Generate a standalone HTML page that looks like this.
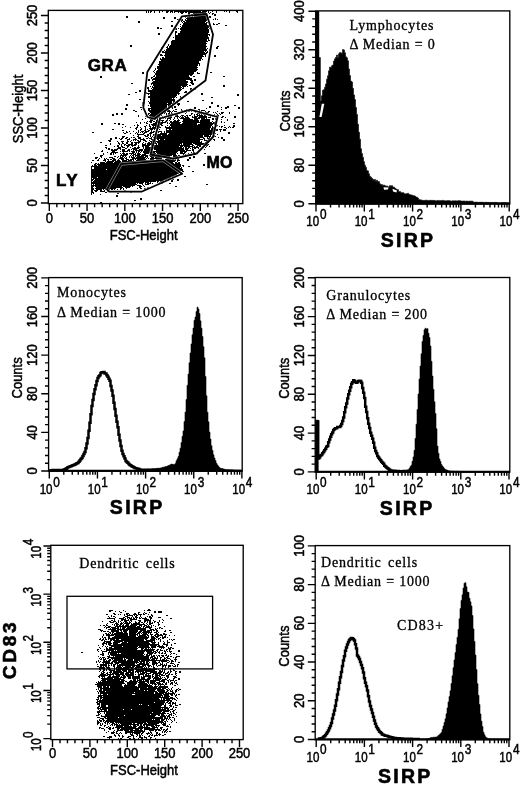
<!DOCTYPE html>
<html><head><meta charset="utf-8"><title>Figure</title>
<style>html,body{margin:0;padding:0;background:#fff}body{width:520px;height:785px;overflow:hidden}svg text{fill:#000}</style></head>
<body>
<svg width="520" height="785" viewBox="0 0 520 785" style="display:block;filter:blur(0.35px)">
<rect width="520" height="785" fill="#fff"/>
<path d="M146 11h1v1h-1zM148 11h1v1h-1zM150 11h2v1h-2zM154 11h1v1h-1zM159 11h1v1h-1zM162 11h1v1h-1zM166 11h3v1h-3zM170 11h3v1h-3zM174 11h27v1h-27zM202 11h5v1h-5zM208 11h1v1h-1zM212 11h1v1h-1zM216 11h1v1h-1zM224 11h1v1h-1zM226 11h1v1h-1zM229 11h1v1h-1zM236 11h2v1h-2zM146 12h1v1h-1zM148 12h1v1h-1zM150 12h1v1h-1zM154 12h1v1h-1zM159 12h1v1h-1zM166 12h2v1h-2zM170 12h1v1h-1zM172 12h1v1h-1zM174 12h1v1h-1zM178 12h1v1h-1zM180 12h4v1h-4zM185 12h2v1h-2zM188 12h18v1h-18zM208 12h1v1h-1zM210 12h1v1h-1zM216 12h1v1h-1zM229 12h1v1h-1zM237 12h1v1h-1zM181 13h2v1h-2zM188 13h2v1h-2zM193 13h13v1h-13zM209 13h1v1h-1zM212 13h2v1h-2zM188 14h2v1h-2zM191 14h2v1h-2zM194 14h13v1h-13zM212 14h1v1h-1zM214 14h2v1h-2zM191 15h1v1h-1zM194 15h14v1h-14zM214 15h2v1h-2zM126 16h2v1h-2zM189 16h1v1h-1zM192 16h1v1h-1zM194 16h13v1h-13zM209 16h2v1h-2zM126 17h2v1h-2zM163 17h2v1h-2zM174 17h2v1h-2zM185 17h1v1h-1zM187 17h24v1h-24zM163 18h2v1h-2zM174 18h2v1h-2zM186 18h22v1h-22zM215 18h1v1h-1zM177 19h2v1h-2zM181 19h2v1h-2zM185 19h1v1h-1zM187 19h21v1h-21zM213 19h1v1h-1zM215 19h1v1h-1zM217 19h1v1h-1zM181 20h2v1h-2zM185 20h22v1h-22zM138 21h2v1h-2zM171 21h2v1h-2zM181 21h1v1h-1zM183 21h2v1h-2zM186 21h20v1h-20zM208 21h1v1h-1zM138 22h2v1h-2zM182 22h1v1h-1zM184 22h21v1h-21zM206 22h2v1h-2zM183 23h24v1h-24zM213 23h1v1h-1zM218 23h2v1h-2zM180 24h1v1h-1zM183 24h24v1h-24zM213 24h2v1h-2zM216 24h2v1h-2zM171 25h2v1h-2zM182 25h29v1h-29zM225 25h2v1h-2zM171 26h2v1h-2zM180 26h1v1h-1zM182 26h28v1h-28zM157 27h2v1h-2zM181 27h28v1h-28zM157 28h2v1h-2zM160 28h2v1h-2zM175 28h2v1h-2zM178 28h1v1h-1zM180 28h28v1h-28zM209 28h1v1h-1zM175 29h2v1h-2zM180 29h29v1h-29zM181 30h28v1h-28zM175 31h2v1h-2zM180 31h29v1h-29zM175 32h2v1h-2zM180 32h29v1h-29zM158 33h2v1h-2zM175 33h1v1h-1zM178 33h30v1h-30zM158 34h2v1h-2zM175 34h1v1h-1zM178 34h32v1h-32zM212 34h2v1h-2zM175 35h33v1h-33zM209 35h1v1h-1zM175 36h33v1h-33zM173 37h1v1h-1zM175 37h34v1h-34zM175 38h34v1h-34zM175 39h32v1h-32zM208 39h1v1h-1zM172 40h35v1h-35zM208 40h2v1h-2zM171 41h37v1h-37zM171 42h35v1h-35zM171 43h36v1h-36zM168 44h1v1h-1zM171 44h35v1h-35zM130 45h2v1h-2zM168 45h1v1h-1zM170 45h36v1h-36zM130 46h2v1h-2zM167 46h1v1h-1zM169 46h38v1h-38zM217 46h2v1h-2zM161 47h2v1h-2zM166 47h2v1h-2zM169 47h37v1h-37zM216 47h2v1h-2zM167 48h39v1h-39zM207 48h1v1h-1zM216 48h2v1h-2zM166 49h41v1h-41zM209 49h2v1h-2zM164 50h1v1h-1zM166 50h41v1h-41zM209 50h2v1h-2zM162 51h2v1h-2zM165 51h39v1h-39zM205 51h1v1h-1zM207 51h1v1h-1zM162 52h43v1h-43zM206 52h2v1h-2zM165 53h42v1h-42zM160 54h2v1h-2zM165 54h41v1h-41zM160 55h3v1h-3zM164 55h39v1h-39zM205 55h1v1h-1zM214 55h2v1h-2zM165 56h39v1h-39zM205 56h1v1h-1zM214 56h2v1h-2zM162 57h2v1h-2zM165 57h37v1h-37zM160 58h1v1h-1zM162 58h40v1h-40zM160 59h41v1h-41zM202 59h1v1h-1zM161 60h40v1h-40zM159 61h40v1h-40zM159 62h40v1h-40zM159 63h41v1h-41zM158 64h40v1h-40zM199 64h1v1h-1zM159 65h39v1h-39zM199 65h1v1h-1zM157 66h40v1h-40zM157 67h41v1h-41zM155 68h1v1h-1zM157 68h40v1h-40zM155 69h1v1h-1zM158 69h40v1h-40zM154 70h1v1h-1zM157 70h40v1h-40zM153 71h1v1h-1zM156 71h40v1h-40zM142 72h2v1h-2zM154 72h1v1h-1zM156 72h38v1h-38zM197 72h1v1h-1zM210 72h2v1h-2zM142 73h2v1h-2zM155 73h39v1h-39zM197 73h3v1h-3zM155 74h38v1h-38zM154 75h1v1h-1zM156 75h33v1h-33zM190 75h2v1h-2zM100 76h2v1h-2zM153 76h2v1h-2zM156 76h33v1h-33zM193 76h2v1h-2zM223 76h2v1h-2zM100 77h2v1h-2zM151 77h2v1h-2zM155 77h35v1h-35zM151 78h1v1h-1zM153 78h39v1h-39zM148 79h2v1h-2zM152 79h40v1h-40zM194 79h2v1h-2zM148 80h2v1h-2zM152 80h1v1h-1zM155 80h31v1h-31zM190 80h3v1h-3zM194 80h2v1h-2zM153 81h35v1h-35zM191 81h2v1h-2zM152 82h36v1h-36zM190 82h3v1h-3zM131 83h2v1h-2zM151 83h36v1h-36zM191 83h3v1h-3zM151 84h1v1h-1zM153 84h35v1h-35zM192 84h2v1h-2zM153 85h34v1h-34zM189 85h2v1h-2zM223 85h2v1h-2zM150 86h1v1h-1zM152 86h1v1h-1zM154 86h27v1h-27zM182 86h4v1h-4zM187 86h1v1h-1zM223 86h2v1h-2zM147 87h2v1h-2zM152 87h30v1h-30zM183 87h1v1h-1zM147 88h2v1h-2zM151 88h1v1h-1zM153 88h28v1h-28zM182 88h2v1h-2zM190 88h2v1h-2zM148 89h1v1h-1zM152 89h30v1h-30zM190 89h2v1h-2zM194 89h2v1h-2zM139 90h2v1h-2zM148 90h33v1h-33zM190 90h2v1h-2zM139 91h2v1h-2zM148 91h32v1h-32zM185 91h2v1h-2zM135 92h2v1h-2zM146 92h1v1h-1zM150 92h29v1h-29zM184 92h3v1h-3zM146 93h34v1h-34zM201 93h2v1h-2zM128 94h2v1h-2zM148 94h1v1h-1zM150 94h27v1h-27zM178 94h1v1h-1zM201 94h2v1h-2zM237 94h2v1h-2zM150 95h27v1h-27zM237 95h2v1h-2zM148 96h28v1h-28zM180 96h1v1h-1zM148 97h27v1h-27zM176 97h1v1h-1zM180 97h3v1h-3zM211 97h2v1h-2zM150 98h22v1h-22zM173 98h1v1h-1zM181 98h2v1h-2zM139 99h2v1h-2zM143 99h2v1h-2zM150 99h25v1h-25zM179 99h1v1h-1zM150 100h25v1h-25zM177 100h3v1h-3zM202 100h2v1h-2zM148 101h1v1h-1zM150 101h22v1h-22zM173 101h2v1h-2zM187 101h2v1h-2zM142 102h1v1h-1zM144 102h1v1h-1zM149 102h23v1h-23zM173 102h1v1h-1zM177 102h1v1h-1zM211 102h2v1h-2zM142 103h1v1h-1zM144 103h1v1h-1zM149 103h18v1h-18zM168 103h5v1h-5zM177 103h3v1h-3zM211 103h2v1h-2zM126 104h2v1h-2zM142 104h2v1h-2zM150 104h21v1h-21zM172 104h2v1h-2zM177 104h3v1h-3zM126 105h2v1h-2zM142 105h1v1h-1zM148 105h1v1h-1zM150 105h17v1h-17zM168 105h3v1h-3zM172 105h1v1h-1zM178 105h1v1h-1zM217 105h2v1h-2zM234 105h2v1h-2zM150 106h17v1h-17zM168 106h2v1h-2zM172 106h1v1h-1zM174 106h2v1h-2zM209 106h2v1h-2zM217 106h2v1h-2zM227 106h2v1h-2zM140 107h2v1h-2zM151 107h16v1h-16zM170 107h3v1h-3zM174 107h2v1h-2zM194 107h2v1h-2zM209 107h2v1h-2zM221 107h1v1h-1zM225 107h4v1h-4zM238 107h2v1h-2zM125 108h2v1h-2zM148 108h22v1h-22zM172 108h1v1h-1zM194 108h2v1h-2zM206 108h1v1h-1zM225 108h2v1h-2zM238 108h2v1h-2zM125 109h2v1h-2zM141 109h1v1h-1zM148 109h2v1h-2zM151 109h14v1h-14zM167 109h2v1h-2zM175 109h2v1h-2zM181 109h1v1h-1zM186 109h1v1h-1zM198 109h2v1h-2zM221 109h1v1h-1zM133 110h2v1h-2zM148 110h18v1h-18zM167 110h3v1h-3zM173 110h1v1h-1zM181 110h2v1h-2zM184 110h3v1h-3zM188 110h2v1h-2zM199 110h1v1h-1zM201 110h4v1h-4zM135 111h2v1h-2zM149 111h14v1h-14zM164 111h2v1h-2zM167 111h4v1h-4zM172 111h1v1h-1zM174 111h3v1h-3zM182 111h4v1h-4zM188 111h2v1h-2zM191 111h1v1h-1zM194 111h3v1h-3zM198 111h2v1h-2zM201 111h1v1h-1zM205 111h1v1h-1zM208 111h2v1h-2zM217 111h1v1h-1zM150 112h12v1h-12zM164 112h2v1h-2zM169 112h1v1h-1zM171 112h1v1h-1zM186 112h1v1h-1zM195 112h1v1h-1zM201 112h2v1h-2zM205 112h4v1h-4zM213 112h1v1h-1zM215 112h1v1h-1zM221 112h3v1h-3zM229 112h1v1h-1zM116 113h2v1h-2zM121 113h2v1h-2zM148 113h2v1h-2zM151 113h12v1h-12zM164 113h1v1h-1zM166 113h1v1h-1zM168 113h2v1h-2zM171 113h2v1h-2zM179 113h1v1h-1zM185 113h1v1h-1zM191 113h2v1h-2zM197 113h6v1h-6zM205 113h3v1h-3zM216 113h1v1h-1zM219 113h1v1h-1zM221 113h2v1h-2zM229 113h1v1h-1zM112 114h2v1h-2zM116 114h2v1h-2zM121 114h2v1h-2zM146 114h1v1h-1zM148 114h1v1h-1zM150 114h11v1h-11zM166 114h1v1h-1zM168 114h3v1h-3zM176 114h2v1h-2zM191 114h1v1h-1zM194 114h1v1h-1zM196 114h2v1h-2zM199 114h1v1h-1zM201 114h1v1h-1zM203 114h2v1h-2zM206 114h3v1h-3zM214 114h1v1h-1zM217 114h1v1h-1zM220 114h1v1h-1zM112 115h2v1h-2zM138 115h1v1h-1zM149 115h9v1h-9zM161 115h1v1h-1zM166 115h1v1h-1zM170 115h2v1h-2zM175 115h3v1h-3zM181 115h3v1h-3zM186 115h2v1h-2zM189 115h2v1h-2zM194 115h1v1h-1zM197 115h6v1h-6zM204 115h2v1h-2zM208 115h3v1h-3zM214 115h1v1h-1zM216 115h3v1h-3zM138 116h1v1h-1zM145 116h1v1h-1zM150 116h6v1h-6zM159 116h1v1h-1zM162 116h1v1h-1zM164 116h2v1h-2zM167 116h2v1h-2zM170 116h2v1h-2zM175 116h4v1h-4zM180 116h1v1h-1zM182 116h1v1h-1zM184 116h2v1h-2zM187 116h1v1h-1zM192 116h1v1h-1zM194 116h4v1h-4zM199 116h8v1h-8zM210 116h1v1h-1zM212 116h1v1h-1zM214 116h2v1h-2zM218 116h1v1h-1zM222 116h2v1h-2zM234 116h2v1h-2zM149 117h1v1h-1zM152 117h9v1h-9zM164 117h1v1h-1zM168 117h4v1h-4zM174 117h1v1h-1zM177 117h1v1h-1zM179 117h1v1h-1zM181 117h3v1h-3zM185 117h4v1h-4zM192 117h5v1h-5zM198 117h9v1h-9zM208 117h3v1h-3zM221 117h2v1h-2zM225 117h1v1h-1zM234 117h2v1h-2zM145 118h1v1h-1zM149 118h1v1h-1zM152 118h6v1h-6zM159 118h3v1h-3zM163 118h1v1h-1zM165 118h1v1h-1zM167 118h4v1h-4zM174 118h1v1h-1zM177 118h1v1h-1zM180 118h10v1h-10zM194 118h6v1h-6zM201 118h4v1h-4zM206 118h1v1h-1zM212 118h2v1h-2zM215 118h1v1h-1zM142 119h1v1h-1zM150 119h3v1h-3zM154 119h2v1h-2zM157 119h1v1h-1zM159 119h2v1h-2zM167 119h1v1h-1zM170 119h1v1h-1zM173 119h1v1h-1zM178 119h1v1h-1zM183 119h10v1h-10zM194 119h4v1h-4zM201 119h9v1h-9zM212 119h2v1h-2zM215 119h1v1h-1zM217 119h1v1h-1zM221 119h1v1h-1zM227 119h1v1h-1zM150 120h3v1h-3zM156 120h2v1h-2zM160 120h4v1h-4zM166 120h2v1h-2zM169 120h1v1h-1zM174 120h2v1h-2zM177 120h3v1h-3zM183 120h16v1h-16zM200 120h10v1h-10zM227 120h1v1h-1zM147 121h1v1h-1zM149 121h3v1h-3zM153 121h2v1h-2zM156 121h4v1h-4zM162 121h1v1h-1zM165 121h2v1h-2zM170 121h2v1h-2zM173 121h6v1h-6zM182 121h17v1h-17zM200 121h10v1h-10zM212 121h1v1h-1zM215 121h2v1h-2zM221 121h1v1h-1zM136 122h1v1h-1zM140 122h1v1h-1zM144 122h1v1h-1zM146 122h1v1h-1zM150 122h2v1h-2zM155 122h11v1h-11zM167 122h1v1h-1zM170 122h11v1h-11zM183 122h29v1h-29zM213 122h3v1h-3zM221 122h1v1h-1zM224 122h1v1h-1zM101 123h2v1h-2zM114 123h2v1h-2zM118 123h2v1h-2zM140 123h1v1h-1zM146 123h2v1h-2zM153 123h4v1h-4zM158 123h5v1h-5zM167 123h1v1h-1zM169 123h1v1h-1zM171 123h9v1h-9zM182 123h15v1h-15zM200 123h15v1h-15zM216 123h1v1h-1zM233 123h2v1h-2zM101 124h2v1h-2zM118 124h2v1h-2zM122 124h2v1h-2zM137 124h1v1h-1zM149 124h1v1h-1zM151 124h6v1h-6zM158 124h4v1h-4zM170 124h27v1h-27zM198 124h15v1h-15zM214 124h1v1h-1zM134 125h1v1h-1zM137 125h2v1h-2zM146 125h1v1h-1zM149 125h1v1h-1zM152 125h5v1h-5zM158 125h2v1h-2zM161 125h2v1h-2zM167 125h1v1h-1zM170 125h42v1h-42zM216 125h2v1h-2zM224 125h1v1h-1zM233 125h2v1h-2zM125 126h1v1h-1zM137 126h1v1h-1zM144 126h2v1h-2zM149 126h2v1h-2zM153 126h1v1h-1zM155 126h5v1h-5zM165 126h1v1h-1zM169 126h1v1h-1zM171 126h40v1h-40zM212 126h1v1h-1zM216 126h1v1h-1zM219 126h1v1h-1zM221 126h2v1h-2zM229 126h1v1h-1zM233 126h2v1h-2zM122 127h1v1h-1zM130 127h1v1h-1zM136 127h2v1h-2zM140 127h1v1h-1zM145 127h1v1h-1zM150 127h1v1h-1zM152 127h4v1h-4zM158 127h3v1h-3zM165 127h46v1h-46zM212 127h2v1h-2zM215 127h1v1h-1zM221 127h1v1h-1zM224 127h2v1h-2zM228 127h1v1h-1zM230 127h1v1h-1zM232 127h2v1h-2zM135 128h2v1h-2zM141 128h1v1h-1zM145 128h1v1h-1zM149 128h7v1h-7zM158 128h1v1h-1zM166 128h44v1h-44zM211 128h4v1h-4zM226 128h1v1h-1zM112 129h2v1h-2zM136 129h1v1h-1zM140 129h2v1h-2zM145 129h1v1h-1zM147 129h1v1h-1zM150 129h3v1h-3zM154 129h1v1h-1zM159 129h1v1h-1zM166 129h1v1h-1zM169 129h2v1h-2zM172 129h38v1h-38zM211 129h7v1h-7zM219 129h3v1h-3zM223 129h3v1h-3zM122 130h2v1h-2zM138 130h1v1h-1zM140 130h1v1h-1zM144 130h2v1h-2zM148 130h2v1h-2zM151 130h1v1h-1zM166 130h52v1h-52zM220 130h1v1h-1zM223 130h3v1h-3zM126 131h1v1h-1zM129 131h1v1h-1zM133 131h1v1h-1zM138 131h1v1h-1zM141 131h3v1h-3zM145 131h4v1h-4zM151 131h1v1h-1zM153 131h2v1h-2zM156 131h1v1h-1zM158 131h4v1h-4zM164 131h1v1h-1zM166 131h49v1h-49zM220 131h1v1h-1zM92 132h2v1h-2zM123 132h1v1h-1zM126 132h2v1h-2zM136 132h1v1h-1zM138 132h1v1h-1zM140 132h1v1h-1zM142 132h1v1h-1zM144 132h3v1h-3zM150 132h4v1h-4zM158 132h1v1h-1zM161 132h1v1h-1zM164 132h1v1h-1zM166 132h48v1h-48zM228 132h2v1h-2zM124 133h2v1h-2zM130 133h1v1h-1zM135 133h1v1h-1zM137 133h1v1h-1zM143 133h2v1h-2zM149 133h3v1h-3zM156 133h1v1h-1zM160 133h7v1h-7zM169 133h45v1h-45zM215 133h1v1h-1zM228 133h2v1h-2zM137 134h7v1h-7zM147 134h2v1h-2zM150 134h1v1h-1zM153 134h2v1h-2zM157 134h10v1h-10zM168 134h44v1h-44zM213 134h1v1h-1zM217 134h1v1h-1zM133 135h1v1h-1zM138 135h1v1h-1zM144 135h2v1h-2zM147 135h2v1h-2zM150 135h1v1h-1zM153 135h1v1h-1zM155 135h6v1h-6zM162 135h41v1h-41zM204 135h5v1h-5zM210 135h1v1h-1zM213 135h2v1h-2zM122 136h3v1h-3zM137 136h2v1h-2zM145 136h3v1h-3zM150 136h1v1h-1zM152 136h1v1h-1zM155 136h48v1h-48zM204 136h7v1h-7zM212 136h4v1h-4zM115 137h2v1h-2zM122 137h2v1h-2zM126 137h2v1h-2zM131 137h1v1h-1zM133 137h2v1h-2zM138 137h3v1h-3zM148 137h1v1h-1zM151 137h1v1h-1zM153 137h51v1h-51zM207 137h1v1h-1zM209 137h1v1h-1zM211 137h1v1h-1zM218 137h1v1h-1zM221 137h2v1h-2zM110 138h2v1h-2zM115 138h2v1h-2zM119 138h1v1h-1zM121 138h2v1h-2zM125 138h2v1h-2zM129 138h1v1h-1zM135 138h1v1h-1zM138 138h3v1h-3zM143 138h1v1h-1zM146 138h2v1h-2zM149 138h3v1h-3zM155 138h45v1h-45zM203 138h2v1h-2zM207 138h3v1h-3zM221 138h2v1h-2zM110 139h2v1h-2zM120 139h2v1h-2zM127 139h3v1h-3zM133 139h4v1h-4zM140 139h5v1h-5zM151 139h3v1h-3zM155 139h1v1h-1zM157 139h2v1h-2zM160 139h4v1h-4zM165 139h38v1h-38zM204 139h1v1h-1zM208 139h1v1h-1zM213 139h2v1h-2zM223 139h2v1h-2zM108 140h3v1h-3zM127 140h1v1h-1zM131 140h1v1h-1zM133 140h1v1h-1zM135 140h1v1h-1zM137 140h2v1h-2zM140 140h1v1h-1zM143 140h3v1h-3zM149 140h1v1h-1zM152 140h4v1h-4zM158 140h42v1h-42zM204 140h4v1h-4zM209 140h2v1h-2zM214 140h1v1h-1zM223 140h2v1h-2zM109 141h2v1h-2zM117 141h1v1h-1zM121 141h3v1h-3zM127 141h2v1h-2zM130 141h1v1h-1zM138 141h3v1h-3zM145 141h2v1h-2zM150 141h4v1h-4zM155 141h45v1h-45zM201 141h1v1h-1zM206 141h4v1h-4zM100 142h2v1h-2zM118 142h1v1h-1zM122 142h1v1h-1zM126 142h2v1h-2zM131 142h2v1h-2zM134 142h6v1h-6zM143 142h1v1h-1zM148 142h2v1h-2zM151 142h2v1h-2zM155 142h1v1h-1zM157 142h45v1h-45zM205 142h4v1h-4zM110 143h1v1h-1zM118 143h2v1h-2zM122 143h2v1h-2zM126 143h2v1h-2zM131 143h2v1h-2zM135 143h2v1h-2zM138 143h1v1h-1zM142 143h1v1h-1zM145 143h1v1h-1zM147 143h10v1h-10zM158 143h24v1h-24zM183 143h9v1h-9zM193 143h14v1h-14zM110 144h1v1h-1zM119 144h1v1h-1zM121 144h1v1h-1zM124 144h2v1h-2zM128 144h5v1h-5zM134 144h3v1h-3zM142 144h4v1h-4zM147 144h7v1h-7zM156 144h1v1h-1zM158 144h22v1h-22zM181 144h1v1h-1zM183 144h10v1h-10zM195 144h9v1h-9zM206 144h3v1h-3zM105 145h2v1h-2zM117 145h2v1h-2zM121 145h1v1h-1zM124 145h1v1h-1zM126 145h4v1h-4zM131 145h5v1h-5zM138 145h1v1h-1zM142 145h8v1h-8zM151 145h39v1h-39zM192 145h2v1h-2zM197 145h4v1h-4zM206 145h2v1h-2zM114 146h1v1h-1zM117 146h2v1h-2zM121 146h2v1h-2zM127 146h2v1h-2zM132 146h1v1h-1zM138 146h1v1h-1zM142 146h2v1h-2zM145 146h4v1h-4zM151 146h2v1h-2zM154 146h25v1h-25zM180 146h3v1h-3zM184 146h9v1h-9zM194 146h1v1h-1zM196 146h2v1h-2zM199 146h2v1h-2zM206 146h1v1h-1zM209 146h1v1h-1zM105 147h2v1h-2zM118 147h3v1h-3zM122 147h3v1h-3zM127 147h1v1h-1zM130 147h1v1h-1zM134 147h2v1h-2zM137 147h3v1h-3zM143 147h1v1h-1zM145 147h37v1h-37zM183 147h1v1h-1zM185 147h2v1h-2zM188 147h2v1h-2zM192 147h7v1h-7zM205 147h1v1h-1zM106 148h1v1h-1zM108 148h2v1h-2zM117 148h4v1h-4zM125 148h2v1h-2zM132 148h7v1h-7zM143 148h1v1h-1zM145 148h6v1h-6zM152 148h32v1h-32zM185 148h4v1h-4zM190 148h1v1h-1zM192 148h1v1h-1zM194 148h2v1h-2zM198 148h1v1h-1zM108 149h2v1h-2zM111 149h2v1h-2zM114 149h4v1h-4zM120 149h1v1h-1zM122 149h3v1h-3zM128 149h2v1h-2zM131 149h1v1h-1zM133 149h4v1h-4zM139 149h4v1h-4zM144 149h7v1h-7zM152 149h1v1h-1zM154 149h30v1h-30zM185 149h3v1h-3zM192 149h2v1h-2zM204 149h1v1h-1zM102 150h1v1h-1zM111 150h6v1h-6zM122 150h3v1h-3zM127 150h3v1h-3zM133 150h1v1h-1zM135 150h8v1h-8zM144 150h9v1h-9zM156 150h29v1h-29zM186 150h5v1h-5zM192 150h2v1h-2zM101 151h2v1h-2zM112 151h3v1h-3zM120 151h1v1h-1zM122 151h6v1h-6zM129 151h1v1h-1zM131 151h4v1h-4zM136 151h1v1h-1zM138 151h2v1h-2zM141 151h1v1h-1zM143 151h7v1h-7zM152 151h26v1h-26zM180 151h7v1h-7zM193 151h1v1h-1zM107 152h1v1h-1zM111 152h7v1h-7zM123 152h1v1h-1zM132 152h3v1h-3zM136 152h1v1h-1zM138 152h1v1h-1zM140 152h1v1h-1zM143 152h7v1h-7zM151 152h4v1h-4zM156 152h21v1h-21zM180 152h3v1h-3zM184 152h2v1h-2zM191 152h1v1h-1zM193 152h2v1h-2zM94 153h1v1h-1zM103 153h1v1h-1zM110 153h2v1h-2zM113 153h1v1h-1zM115 153h1v1h-1zM120 153h1v1h-1zM122 153h3v1h-3zM126 153h2v1h-2zM129 153h5v1h-5zM135 153h1v1h-1zM137 153h3v1h-3zM144 153h5v1h-5zM150 153h6v1h-6zM157 153h19v1h-19zM177 153h1v1h-1zM180 153h5v1h-5zM188 153h1v1h-1zM193 153h2v1h-2zM204 153h2v1h-2zM103 154h1v1h-1zM110 154h2v1h-2zM113 154h1v1h-1zM121 154h1v1h-1zM123 154h5v1h-5zM131 154h1v1h-1zM133 154h3v1h-3zM137 154h4v1h-4zM142 154h4v1h-4zM150 154h5v1h-5zM156 154h20v1h-20zM183 154h1v1h-1zM185 154h1v1h-1zM194 154h2v1h-2zM100 155h3v1h-3zM120 155h7v1h-7zM130 155h1v1h-1zM132 155h2v1h-2zM135 155h5v1h-5zM141 155h7v1h-7zM149 155h5v1h-5zM156 155h16v1h-16zM173 155h4v1h-4zM178 155h2v1h-2zM185 155h1v1h-1zM189 155h3v1h-3zM100 156h2v1h-2zM114 156h2v1h-2zM118 156h1v1h-1zM120 156h1v1h-1zM122 156h2v1h-2zM125 156h1v1h-1zM129 156h1v1h-1zM131 156h1v1h-1zM133 156h1v1h-1zM135 156h1v1h-1zM137 156h7v1h-7zM145 156h3v1h-3zM150 156h20v1h-20zM173 156h5v1h-5zM193 156h2v1h-2zM95 157h3v1h-3zM101 157h1v1h-1zM109 157h4v1h-4zM117 157h1v1h-1zM120 157h3v1h-3zM124 157h1v1h-1zM126 157h1v1h-1zM129 157h1v1h-1zM131 157h4v1h-4zM136 157h10v1h-10zM147 157h1v1h-1zM151 157h3v1h-3zM155 157h7v1h-7zM163 157h1v1h-1zM166 157h2v1h-2zM173 157h4v1h-4zM179 157h1v1h-1zM189 157h2v1h-2zM193 157h2v1h-2zM95 158h2v1h-2zM99 158h1v1h-1zM104 158h1v1h-1zM106 158h1v1h-1zM112 158h3v1h-3zM119 158h5v1h-5zM125 158h2v1h-2zM132 158h13v1h-13zM146 158h1v1h-1zM148 158h1v1h-1zM150 158h12v1h-12zM166 158h3v1h-3zM171 158h5v1h-5zM177 158h2v1h-2zM189 158h2v1h-2zM98 159h1v1h-1zM104 159h2v1h-2zM107 159h2v1h-2zM110 159h2v1h-2zM113 159h3v1h-3zM118 159h1v1h-1zM121 159h3v1h-3zM126 159h3v1h-3zM130 159h4v1h-4zM135 159h1v1h-1zM137 159h9v1h-9zM150 159h4v1h-4zM156 159h6v1h-6zM165 159h9v1h-9zM175 159h1v1h-1zM177 159h2v1h-2zM187 159h2v1h-2zM92 160h2v1h-2zM97 160h2v1h-2zM103 160h3v1h-3zM108 160h1v1h-1zM112 160h4v1h-4zM117 160h3v1h-3zM122 160h5v1h-5zM128 160h4v1h-4zM133 160h1v1h-1zM136 160h23v1h-23zM160 160h3v1h-3zM164 160h12v1h-12zM177 160h3v1h-3zM187 160h2v1h-2zM105 161h1v1h-1zM107 161h7v1h-7zM115 161h6v1h-6zM122 161h53v1h-53zM177 161h1v1h-1zM91 162h1v1h-1zM100 162h5v1h-5zM106 162h7v1h-7zM114 162h59v1h-59zM175 162h2v1h-2zM178 162h2v1h-2zM95 163h2v1h-2zM98 163h1v1h-1zM100 163h74v1h-74zM175 163h5v1h-5zM94 164h2v1h-2zM97 164h84v1h-84zM203 164h2v1h-2zM92 165h1v1h-1zM94 165h3v1h-3zM98 165h83v1h-83zM182 165h2v1h-2zM203 165h2v1h-2zM91 166h90v1h-90zM183 166h1v1h-1zM188 166h2v1h-2zM91 167h1v1h-1zM94 167h86v1h-86zM181 167h1v1h-1zM91 168h1v1h-1zM94 168h88v1h-88zM91 169h15v1h-15zM107 169h76v1h-76zM91 170h92v1h-92zM91 171h89v1h-89zM182 171h2v1h-2zM192 171h2v1h-2zM91 172h89v1h-89zM181 172h1v1h-1zM91 173h88v1h-88zM180 173h1v1h-1zM91 174h86v1h-86zM91 175h86v1h-86zM91 176h83v1h-83zM175 176h1v1h-1zM184 176h2v1h-2zM91 177h6v1h-6zM98 177h73v1h-73zM172 177h2v1h-2zM91 178h1v1h-1zM93 178h78v1h-78zM91 179h3v1h-3zM95 179h72v1h-72zM172 179h2v1h-2zM177 179h2v1h-2zM91 180h2v1h-2zM94 180h70v1h-70zM166 180h3v1h-3zM171 180h2v1h-2zM177 180h2v1h-2zM91 181h1v1h-1zM93 181h63v1h-63zM157 181h2v1h-2zM160 181h3v1h-3zM171 181h2v1h-2zM91 182h53v1h-53zM145 182h4v1h-4zM150 182h1v1h-1zM157 182h1v1h-1zM159 182h1v1h-1zM161 182h1v1h-1zM91 183h45v1h-45zM137 183h1v1h-1zM139 183h4v1h-4zM145 183h1v1h-1zM147 183h4v1h-4zM152 183h1v1h-1zM161 183h2v1h-2zM169 183h2v1h-2zM91 184h1v1h-1zM93 184h1v1h-1zM95 184h42v1h-42zM142 184h1v1h-1zM145 184h4v1h-4zM206 184h2v1h-2zM91 185h44v1h-44zM137 185h4v1h-4zM143 185h1v1h-1zM91 186h3v1h-3zM95 186h27v1h-27zM123 186h8v1h-8zM132 186h1v1h-1zM139 186h3v1h-3zM144 186h1v1h-1zM175 186h2v1h-2zM91 187h2v1h-2zM96 187h27v1h-27zM125 187h5v1h-5zM139 187h2v1h-2zM147 187h2v1h-2zM91 188h3v1h-3zM95 188h21v1h-21zM120 188h2v1h-2zM123 188h1v1h-1zM126 188h1v1h-1zM137 188h1v1h-1zM140 188h2v1h-2zM144 188h2v1h-2zM147 188h2v1h-2zM91 189h3v1h-3zM96 189h6v1h-6zM103 189h1v1h-1zM105 189h5v1h-5zM111 189h2v1h-2zM114 189h1v1h-1zM117 189h1v1h-1zM120 189h1v1h-1zM123 189h1v1h-1zM144 189h2v1h-2zM91 190h2v1h-2zM94 190h4v1h-4zM100 190h2v1h-2zM104 190h1v1h-1zM107 190h2v1h-2zM124 190h2v1h-2zM160 190h2v1h-2zM91 191h2v1h-2zM95 191h2v1h-2zM100 191h5v1h-5zM107 191h2v1h-2zM116 191h2v1h-2zM125 191h1v1h-1zM129 191h3v1h-3zM91 192h3v1h-3zM105 192h2v1h-2zM130 192h2v1h-2zM91 193h1v1h-1zM93 193h1v1h-1zM117 193h2v1h-2zM91 194h1v1h-1zM100 194h1v1h-1zM116 195h2v1h-2zM116 196h2v1h-2zM140 198h2v1h-2zM140 199h2v1h-2zM134 200h2v1h-2zM100 202h2v1h-2z" fill="#000" shape-rendering="crispEdges"/>
<rect x="48.30" y="10.40" width="194.50" height="193.20" fill="none" stroke="#000" stroke-width="1.35"/>
<path d="M49.30 203.60v7.4M56.85 203.60v3.6M64.40 203.60v3.6M71.95 203.60v3.6M79.50 203.60v3.6M87.05 203.60v7.4M94.60 203.60v3.6M102.15 203.60v3.6M109.70 203.60v3.6M117.25 203.60v3.6M124.80 203.60v7.4M132.35 203.60v3.6M139.90 203.60v3.6M147.45 203.60v3.6M155.00 203.60v3.6M162.55 203.60v7.4M170.10 203.60v3.6M177.65 203.60v3.6M185.20 203.60v3.6M192.75 203.60v3.6M200.30 203.60v7.4M207.85 203.60v3.6M215.40 203.60v3.6M222.95 203.60v3.6M230.50 203.60v3.6M238.05 203.60v7.4" stroke="#000" stroke-width="1.4" fill="none"/>
<text font-size="14.44" font-family='"Liberation Sans", sans-serif' font-weight="normal" text-anchor="middle" transform="translate(49.30 223.40) scale(0.9 1)" stroke="#000" stroke-width="0.5" >0</text>
<text font-size="14.44" font-family='"Liberation Sans", sans-serif' font-weight="normal" text-anchor="middle" transform="translate(87.05 223.40) scale(0.9 1)" stroke="#000" stroke-width="0.5" >50</text>
<text font-size="14.44" font-family='"Liberation Sans", sans-serif' font-weight="normal" text-anchor="middle" transform="translate(124.80 223.40) scale(0.9 1)" stroke="#000" stroke-width="0.5" >100</text>
<text font-size="14.44" font-family='"Liberation Sans", sans-serif' font-weight="normal" text-anchor="middle" transform="translate(162.55 223.40) scale(0.9 1)" stroke="#000" stroke-width="0.5" >150</text>
<text font-size="14.44" font-family='"Liberation Sans", sans-serif' font-weight="normal" text-anchor="middle" transform="translate(200.30 223.40) scale(0.9 1)" stroke="#000" stroke-width="0.5" >200</text>
<text font-size="14.44" font-family='"Liberation Sans", sans-serif' font-weight="normal" text-anchor="middle" transform="translate(238.05 223.40) scale(0.9 1)" stroke="#000" stroke-width="0.5" >250</text>
<path d="M48.30 203.00h-7.4M48.30 195.50h-3.6M48.30 188.00h-3.6M48.30 180.50h-3.6M48.30 173.00h-3.6M48.30 165.50h-7.4M48.30 158.00h-3.6M48.30 150.50h-3.6M48.30 143.00h-3.6M48.30 135.50h-3.6M48.30 128.00h-7.4M48.30 120.50h-3.6M48.30 113.00h-3.6M48.30 105.50h-3.6M48.30 98.00h-3.6M48.30 90.50h-7.4M48.30 83.00h-3.6M48.30 75.50h-3.6M48.30 68.00h-3.6M48.30 60.50h-3.6M48.30 53.00h-7.4M48.30 45.50h-3.6M48.30 38.00h-3.6M48.30 30.50h-3.6M48.30 23.00h-3.6M48.30 15.50h-7.4" stroke="#000" stroke-width="1.4" fill="none"/>
<text font-size="14.44" font-family='"Liberation Sans", sans-serif' font-weight="normal" text-anchor="middle" transform="translate(36.70 203.00) rotate(-90) scale(0.9 1)" stroke="#000" stroke-width="0.5" >0</text>
<text font-size="14.44" font-family='"Liberation Sans", sans-serif' font-weight="normal" text-anchor="middle" transform="translate(36.70 165.50) rotate(-90) scale(0.9 1)" stroke="#000" stroke-width="0.5" >50</text>
<text font-size="14.44" font-family='"Liberation Sans", sans-serif' font-weight="normal" text-anchor="middle" transform="translate(36.70 128.00) rotate(-90) scale(0.9 1)" stroke="#000" stroke-width="0.5" >100</text>
<text font-size="14.44" font-family='"Liberation Sans", sans-serif' font-weight="normal" text-anchor="middle" transform="translate(36.70 90.50) rotate(-90) scale(0.9 1)" stroke="#000" stroke-width="0.5" >150</text>
<text font-size="14.44" font-family='"Liberation Sans", sans-serif' font-weight="normal" text-anchor="middle" transform="translate(36.70 53.00) rotate(-90) scale(0.9 1)" stroke="#000" stroke-width="0.5" >200</text>
<text font-size="14.44" font-family='"Liberation Sans", sans-serif' font-weight="normal" text-anchor="middle" transform="translate(36.70 15.50) rotate(-90) scale(0.9 1)" stroke="#000" stroke-width="0.5" >250</text>
<text font-size="14.44" font-family='"Liberation Sans", sans-serif' font-weight="normal" text-anchor="middle" transform="translate(143.60 239.50) scale(0.9 1)" stroke="#000" stroke-width="0.5" >FSC-Height</text>
<text font-size="14.44" font-family='"Liberation Sans", sans-serif' font-weight="normal" text-anchor="middle" transform="translate(22.60 109.00) rotate(-90) scale(0.9 1)" stroke="#000" stroke-width="0.5" >SSC-Height</text>
<path d="M182.0 16.3L206.5 14.0L213.0 34.5L205.5 80.5L154.5 118.8L147.5 117.0L143.3 107.6L147.3 72.0Z" fill="none" stroke="#fff" stroke-width="3.2" stroke-linejoin="round" opacity="0.55"/>
<path d="M182.0 16.3L206.5 14.0L213.0 34.5L205.5 80.5L154.5 118.8L147.5 117.0L143.3 107.6L147.3 72.0Z" fill="none" stroke="#000" stroke-width="1.8" stroke-linejoin="round"/>
<path d="M160.0 118.5L190.5 109.6L217.5 117.0L213.0 137.0L196.7 153.5L173.8 158.7L150.5 154.5Z" fill="none" stroke="#fff" stroke-width="3.2" stroke-linejoin="round" opacity="0.55"/>
<path d="M160.0 118.5L190.5 109.6L217.5 117.0L213.0 137.0L196.7 153.5L173.8 158.7L150.5 154.5Z" fill="none" stroke="#000" stroke-width="1.8" stroke-linejoin="round"/>
<path d="M107.0 189.5L121.0 164.2L163.0 160.3L182.2 173.8L141.5 191.7L109.5 191.7Z" fill="none" stroke="#fff" stroke-width="3.2" stroke-linejoin="round" opacity="0.55"/>
<path d="M107.0 189.5L121.0 164.2L163.0 160.3L182.2 173.8L141.5 191.7L109.5 191.7Z" fill="none" stroke="#000" stroke-width="1.8" stroke-linejoin="round"/>
<text font-size="17.00" font-family='"Liberation Sans", sans-serif' font-weight="bold" text-anchor="middle" transform="translate(107.50 71.00)" stroke="#000" stroke-width="0.6" letter-spacing="0.6" >GRA</text>
<text font-size="16.00" font-family='"Liberation Sans", sans-serif' font-weight="bold" text-anchor="middle" transform="translate(219.50 167.50)" stroke="#000" stroke-width="0.6" >MO</text>
<text font-size="17.00" font-family='"Liberation Sans", sans-serif' font-weight="bold" text-anchor="middle" transform="translate(67.50 186.00)" stroke="#000" stroke-width="0.6" letter-spacing="1.5" >LY</text>
<path d="M319.50 204.00L319.50 104.72L320.50 104.72L320.50 100.93L321.50 100.93L321.50 95.75L322.50 95.75L322.50 90.17L323.50 90.17L323.50 89.80L324.50 89.80L324.50 87.32L325.50 87.32L325.50 83.96L326.50 83.96L326.50 79.18L327.50 79.18L327.50 75.76L328.50 75.76L328.50 70.81L329.50 70.81L329.50 67.03L330.50 67.03L330.50 67.94L331.50 67.94L331.50 65.77L332.50 65.77L332.50 64.97L333.50 64.97L333.50 61.05L334.50 61.05L334.50 58.85L335.50 58.85L335.50 57.36L336.50 57.36L336.50 55.05L337.50 55.05L337.50 57.86L338.50 57.86L338.50 53.80L339.50 53.80L339.50 52.49L340.50 52.49L340.50 52.75L341.50 52.75L341.50 53.46L342.50 53.46L342.50 49.55L343.50 49.55L343.50 49.96L344.50 49.96L344.50 52.69L345.50 52.69L345.50 56.82L346.50 56.82L346.50 57.85L347.50 57.85L347.50 60.74L348.50 60.74L348.50 68.99L349.50 68.99L349.50 75.62L350.50 75.62L350.50 81.09L351.50 81.09L351.50 81.94L352.50 81.94L352.50 88.37L353.50 88.37L353.50 94.94L354.50 94.94L354.50 99.52L355.50 99.52L355.50 107.48L356.50 107.48L356.50 114.43L357.50 114.43L357.50 124.21L358.50 124.21L358.50 132.20L359.50 132.20L359.50 139.16L360.50 139.16L360.50 148.72L361.50 148.72L361.50 153.38L362.50 153.38L362.50 157.19L363.50 157.19L363.50 161.64L364.50 161.64L364.50 165.16L365.50 165.16L365.50 167.37L366.50 167.37L366.50 170.42L367.50 170.42L367.50 170.88L368.50 170.88L368.50 173.82L369.50 173.82L369.50 176.25L370.50 176.25L370.50 177.14L371.50 177.14L371.50 178.28L372.50 178.28L372.50 179.28L373.50 179.28L373.50 180.30L374.50 180.30L374.50 179.38L375.50 179.38L375.50 181.15L376.50 181.15L376.50 180.22L377.50 180.22L377.50 181.59L378.50 181.59L378.50 181.54L379.50 181.54L379.50 183.84L380.50 183.84L380.50 184.65L381.50 184.65L381.50 184.50L382.50 184.50L382.50 185.89L383.50 185.89L383.50 184.98L384.50 184.98L384.50 185.77L385.50 185.77L385.50 186.13L386.50 186.13L386.50 185.88L387.50 185.88L387.50 186.72L388.50 186.72L388.50 187.28L389.50 187.28L389.50 185.58L390.50 185.58L390.50 186.36L391.50 186.36L391.50 185.62L392.50 185.62L392.50 186.93L393.50 186.93L393.50 187.13L394.50 187.13L394.50 188.07L395.50 188.07L395.50 188.90L396.50 188.90L396.50 189.59L397.50 189.59L397.50 189.73L398.50 189.73L398.50 191.82L399.50 191.82L399.50 191.53L400.50 191.53L400.50 192.48L401.50 192.48L401.50 192.92L402.50 192.92L402.50 192.62L403.50 192.62L403.50 193.30L404.50 193.30L404.50 193.98L405.50 193.98L405.50 193.81L406.50 193.81L406.50 193.76L407.50 193.76L407.50 193.26L408.50 193.26L408.50 194.24L409.50 194.24L409.50 194.64L410.50 194.64L410.50 194.92L411.50 194.92L411.50 195.01L412.50 195.01L412.50 195.73L413.50 195.73L413.50 195.65L414.50 195.65L414.50 196.06L415.50 196.06L415.50 197.00L416.50 197.00L416.50 197.20L417.50 197.20L417.50 198.06L418.50 198.06L418.50 199.42L419.50 199.42L419.50 199.74L420.50 199.74L420.50 199.90L421.50 199.90L421.50 200.20L422.50 200.20L422.50 200.37L423.50 200.37L423.50 200.55L424.50 200.55L424.50 200.32L425.50 200.32L425.50 200.18L426.50 200.18L426.50 200.16L427.50 200.16L427.50 200.50L428.50 200.50L428.50 200.44L429.50 200.44L429.50 200.27L430.50 200.27L430.50 200.37L431.50 200.37L431.50 200.34L432.50 200.34L432.50 200.62L433.50 200.62L433.50 200.32L434.50 200.32L434.50 200.60L435.50 200.60L435.50 200.71L436.50 200.71L436.50 200.65L437.50 200.65L437.50 200.37L438.50 200.37L438.50 200.88L439.50 200.88L439.50 200.45L440.50 200.45L440.50 200.71L441.50 200.71L441.50 200.47L442.50 200.47L442.50 200.27L443.50 200.27L443.50 200.72L444.50 200.72L444.50 200.76L445.50 200.76L445.50 200.70L446.50 200.70L446.50 200.79L447.50 200.79L447.50 200.61L448.50 200.61L448.50 200.61L449.50 200.61L449.50 200.75L450.50 200.75L450.50 201.22L451.50 201.22L451.50 201.00L452.50 201.00L452.50 200.73L453.50 200.73L453.50 200.98L454.50 200.98L454.50 200.78L455.50 200.78L455.50 200.80L456.50 200.80L456.50 201.10L457.50 201.10L457.50 200.83L458.50 200.83L458.50 200.61L459.50 200.61L459.50 200.79L460.50 200.79L460.50 201.01L461.50 201.01L461.50 201.04L462.50 201.04L462.50 201.29L463.50 201.29L463.50 200.90L464.50 200.90L464.50 201.22L465.50 201.22L465.50 201.17L466.50 201.17L466.50 201.08L467.50 201.08L467.50 201.30L468.50 201.30L468.50 201.24L469.50 201.24L469.50 200.99L470.50 200.99L470.50 201.40L471.50 201.40L471.50 200.95L472.50 200.95L472.50 201.71L473.50 201.71L473.50 202.20L474.50 202.20L474.50 202.29L475.50 202.29L475.50 202.12L476.50 202.12L476.50 202.25L477.50 202.25L477.50 202.25L478.50 202.25L478.50 202.44L479.50 202.44L479.50 202.18L480.50 202.18L480.50 202.33L481.50 202.33L481.50 202.30L482.50 202.30L482.50 202.15L483.50 202.15L483.50 202.78L484.50 202.78L484.50 202.38L485.50 202.38L485.50 202.18L486.50 202.18L486.50 202.64L487.50 202.64L487.50 202.28L488.50 202.28L488.50 202.51L489.50 202.51L489.50 202.60L490.50 202.60L490.50 202.40L491.50 202.40L491.50 202.45L492.50 202.45L492.50 202.45L493.50 202.45L493.50 202.52L494.50 202.52L494.50 202.33L495.50 202.33L495.50 202.40L496.50 202.40L496.50 202.57L497.50 202.57L497.50 202.76L498.50 202.76L498.50 202.72L499.50 202.72L499.50 202.89L500.50 202.89L500.50 202.76L501.50 202.76L501.50 202.61L502.50 202.61L502.50 202.68L503.50 202.68L503.50 202.44L504.50 202.44L504.50 202.60L505.50 202.60L505.50 202.61L506.50 202.61L506.50 202.80L507.50 202.80L507.50 202.87L508.50 202.87L508.50 202.73L509.50 202.73L509.50 204.00Z" fill="#000" stroke="#000" stroke-width="0.6"/>
<path d="M315.2 10.9H319.2V57.3H320.7V204H315.2Z" fill="#000"/>
<path d="M383.5 187.2L388.5 187.6L388 189.6L384 189.8Z M392.5 188.8L397 190.4L396.5 192.6L393 191.6Z" fill="#fff"/>
<path d="M321.8 103.8L324.3 103.8L321.6 117L319.4 117Z" fill="#fff"/>
<rect x="315.80" y="10.90" width="194.00" height="193.10" fill="none" stroke="#000" stroke-width="1.35"/>
<path d="M315.80 203.60L509.80 203.60" stroke="#000" stroke-width="2.0" fill="none"/>
<path d="M316.00 204.00v7.4M330.54 204.00v3.6M339.04 204.00v3.6M345.08 204.00v3.6M349.76 204.00v3.6M353.58 204.00v3.6M356.82 204.00v3.6M359.62 204.00v3.6M362.09 204.00v3.6M364.30 204.00v7.4M378.84 204.00v3.6M387.34 204.00v3.6M393.38 204.00v3.6M398.06 204.00v3.6M401.88 204.00v3.6M405.12 204.00v3.6M407.92 204.00v3.6M410.39 204.00v3.6M412.60 204.00v7.4M427.14 204.00v3.6M435.64 204.00v3.6M441.68 204.00v3.6M446.36 204.00v3.6M450.18 204.00v3.6M453.42 204.00v3.6M456.22 204.00v3.6M458.69 204.00v3.6M460.90 204.00v7.4M475.44 204.00v3.6M483.94 204.00v3.6M489.98 204.00v3.6M494.66 204.00v3.6M498.48 204.00v3.6M501.72 204.00v3.6M504.52 204.00v3.6M506.99 204.00v3.6M509.20 204.00v7.4" stroke="#000" stroke-width="1.4" fill="none"/>
<text font-size="14.44" font-family='"Liberation Sans", sans-serif' font-weight="normal" text-anchor="end" transform="translate(319.20 225.80) scale(0.8 1)" stroke="#000" stroke-width="0.5" >10</text>
<text font-size="13.89" font-family='"Liberation Sans", sans-serif' font-weight="normal" text-anchor="start" transform="translate(319.90 218.60) scale(0.85 1)" stroke="#000" stroke-width="0.5" >0</text>
<text font-size="14.44" font-family='"Liberation Sans", sans-serif' font-weight="normal" text-anchor="end" transform="translate(367.50 225.80) scale(0.8 1)" stroke="#000" stroke-width="0.5" >10</text>
<text font-size="13.89" font-family='"Liberation Sans", sans-serif' font-weight="normal" text-anchor="start" transform="translate(368.20 218.60) scale(0.85 1)" stroke="#000" stroke-width="0.5" >1</text>
<text font-size="14.44" font-family='"Liberation Sans", sans-serif' font-weight="normal" text-anchor="end" transform="translate(415.80 225.80) scale(0.8 1)" stroke="#000" stroke-width="0.5" >10</text>
<text font-size="13.89" font-family='"Liberation Sans", sans-serif' font-weight="normal" text-anchor="start" transform="translate(416.50 218.60) scale(0.85 1)" stroke="#000" stroke-width="0.5" >2</text>
<text font-size="14.44" font-family='"Liberation Sans", sans-serif' font-weight="normal" text-anchor="end" transform="translate(464.10 225.80) scale(0.8 1)" stroke="#000" stroke-width="0.5" >10</text>
<text font-size="13.89" font-family='"Liberation Sans", sans-serif' font-weight="normal" text-anchor="start" transform="translate(464.80 218.60) scale(0.85 1)" stroke="#000" stroke-width="0.5" >3</text>
<text font-size="14.44" font-family='"Liberation Sans", sans-serif' font-weight="normal" text-anchor="end" transform="translate(512.40 225.80) scale(0.8 1)" stroke="#000" stroke-width="0.5" >10</text>
<text font-size="13.89" font-family='"Liberation Sans", sans-serif' font-weight="normal" text-anchor="start" transform="translate(513.10 218.60) scale(0.85 1)" stroke="#000" stroke-width="0.5" >4</text>
<path d="M315.80 203.80h-7.4M315.80 196.10h-3.6M315.80 188.39h-3.6M315.80 180.69h-3.6M315.80 172.98h-3.6M315.80 165.28h-7.4M315.80 157.58h-3.6M315.80 149.87h-3.6M315.80 142.17h-3.6M315.80 134.46h-3.6M315.80 126.76h-7.4M315.80 119.06h-3.6M315.80 111.35h-3.6M315.80 103.65h-3.6M315.80 95.94h-3.6M315.80 88.24h-7.4M315.80 80.54h-3.6M315.80 72.83h-3.6M315.80 65.13h-3.6M315.80 57.42h-3.6M315.80 49.72h-7.4M315.80 42.02h-3.6M315.80 34.31h-3.6M315.80 26.61h-3.6M315.80 18.90h-3.6M315.80 11.20h-7.4" stroke="#000" stroke-width="1.4" fill="none"/>
<text font-size="14.44" font-family='"Liberation Sans", sans-serif' font-weight="normal" text-anchor="middle" transform="translate(304.20 203.80) rotate(-90) scale(0.9 1)" stroke="#000" stroke-width="0.5" >0</text>
<text font-size="14.44" font-family='"Liberation Sans", sans-serif' font-weight="normal" text-anchor="middle" transform="translate(304.20 165.28) rotate(-90) scale(0.9 1)" stroke="#000" stroke-width="0.5" >80</text>
<text font-size="14.44" font-family='"Liberation Sans", sans-serif' font-weight="normal" text-anchor="middle" transform="translate(304.20 126.76) rotate(-90) scale(0.9 1)" stroke="#000" stroke-width="0.5" >160</text>
<text font-size="14.44" font-family='"Liberation Sans", sans-serif' font-weight="normal" text-anchor="middle" transform="translate(304.20 88.24) rotate(-90) scale(0.9 1)" stroke="#000" stroke-width="0.5" >240</text>
<text font-size="14.44" font-family='"Liberation Sans", sans-serif' font-weight="normal" text-anchor="middle" transform="translate(304.20 49.72) rotate(-90) scale(0.9 1)" stroke="#000" stroke-width="0.5" >320</text>
<text font-size="14.44" font-family='"Liberation Sans", sans-serif' font-weight="normal" text-anchor="middle" transform="translate(304.20 11.20) rotate(-90) scale(0.9 1)" stroke="#000" stroke-width="0.5" >400</text>
<text font-size="14.44" font-family='"Liberation Sans", sans-serif' font-weight="normal" text-anchor="middle" transform="translate(289.50 110.95) rotate(-90) scale(0.9 1)" stroke="#000" stroke-width="0.5" >Counts</text>
<text font-size="19.50" font-family='"Liberation Sans", sans-serif' font-weight="bold" text-anchor="middle" transform="translate(408.00 247.30)" stroke="#000" stroke-width="0.6" letter-spacing="2.3" >SIRP</text>
<text font-size="14.00" font-family='"Liberation Serif", serif' font-weight="normal" text-anchor="start" transform="translate(349.50 30.00)" stroke="#000" stroke-width="0.3" letter-spacing="0.85" >Lymphocytes</text>
<text font-size="14.00" font-family='"Liberation Serif", serif' font-weight="normal" text-anchor="start" transform="translate(349.50 48.80)" stroke="#000" stroke-width="0.3" letter-spacing="0.8" >Δ Median = 0</text>
<path d="M49.50 470.19L50.50 470.19L50.50 470.16L51.50 470.16L51.50 470.18L52.50 470.18L52.50 470.12L53.50 470.12L53.50 470.10L54.50 470.10L54.50 470.11L55.50 470.11L55.50 470.04L56.50 470.04L56.50 470.03L57.50 470.03L57.50 470.02L58.50 470.02L58.50 469.99L59.50 469.99L59.50 469.95L60.50 469.95L60.50 469.96L61.50 469.96L61.50 469.93L62.50 469.93L62.50 469.93L63.50 469.93L63.50 469.86L64.50 469.86L64.50 469.25L65.50 469.25L65.50 468.71L66.50 468.71L66.50 468.14L67.50 468.14L67.50 467.30L68.50 467.30L68.50 467.05L69.50 467.05L69.50 466.52L70.50 466.52L70.50 466.13L71.50 466.13L71.50 465.73L72.50 465.73L72.50 465.36L73.50 465.36L73.50 464.99L74.50 464.99L74.50 464.47L75.50 464.47L75.50 463.91L76.50 463.91L76.50 463.36L77.50 463.36L77.50 462.90L78.50 462.90L78.50 461.64L79.50 461.64L79.50 460.50L80.50 460.50L80.50 459.07L81.50 459.07L81.50 457.90L82.50 457.90L82.50 455.88L83.50 455.88L83.50 453.89L84.50 453.89L84.50 451.94L85.50 451.94L85.50 448.34L86.50 448.34L86.50 443.38L87.50 443.38L87.50 437.88L88.50 437.88L88.50 430.79L89.50 430.79L89.50 422.82L90.50 422.82L90.50 414.26L91.50 414.26L91.50 405.93L92.50 405.93L92.50 400.02L93.50 400.02L93.50 393.99L94.50 393.99L94.50 389.37L95.50 389.37L95.50 385.32L96.50 385.32L96.50 381.09L97.50 381.09L97.50 377.91L98.50 377.91L98.50 376.29L99.50 376.29L99.50 375.17L100.50 375.17L100.50 372.99L101.50 372.99L101.50 372.15L102.50 372.15L102.50 372.16L103.50 372.16L103.50 371.97L104.50 371.97L104.50 373.39L105.50 373.39L105.50 373.62L106.50 373.62L106.50 375.29L107.50 375.29L107.50 376.82L108.50 376.82L108.50 378.78L109.50 378.78L109.50 380.74L110.50 380.74L110.50 386.06L111.50 386.06L111.50 390.41L112.50 390.41L112.50 395.82L113.50 395.82L113.50 402.69L114.50 402.69L114.50 408.90L115.50 408.90L115.50 415.65L116.50 415.65L116.50 421.68L117.50 421.68L117.50 427.36L118.50 427.36L118.50 434.69L119.50 434.69L119.50 440.49L120.50 440.49L120.50 446.01L121.50 446.01L121.50 450.82L122.50 450.82L122.50 453.97L123.50 453.97L123.50 456.15L124.50 456.15L124.50 458.42L125.50 458.42L125.50 461.01L126.50 461.01L126.50 461.88L127.50 461.88L127.50 462.83L128.50 462.83L128.50 463.88L129.50 463.88L129.50 465.09L130.50 465.09L130.50 465.53L131.50 465.53L131.50 466.16L132.50 466.16L132.50 466.76L133.50 466.76L133.50 467.37L134.50 467.37L134.50 467.97L135.50 467.97L135.50 468.16L136.50 468.16L136.50 468.49L137.50 468.49L137.50 468.76L138.50 468.76L138.50 469.07L139.50 469.07L139.50 469.44L140.50 469.44L140.50 469.68L141.50 469.68L141.50 469.72L142.50 469.72L142.50 469.72L143.50 469.72L143.50 469.75L144.50 469.75L144.50 469.81L145.50 469.81L145.50 469.80L146.50 469.80L146.50 469.82L147.50 469.82L147.50 469.87L148.50 469.87L148.50 469.89L149.50 469.89L149.50 469.92L150.50 469.92L150.50 469.90L151.50 469.90L151.50 469.86L152.50 469.86L152.50 469.92L153.50 469.92L153.50 469.91L154.50 469.91L154.50 469.93L155.50 469.93L155.50 469.88L156.50 469.88L156.50 469.96L157.50 469.96L157.50 469.87L158.50 469.87L158.50 469.92L159.50 469.92L159.50 469.90L160.50 469.90L160.50 469.89L161.50 469.89L161.50 469.92L162.50 469.92L162.50 469.89L163.50 469.89L163.50 469.84L164.50 469.84L164.50 469.87L165.50 469.87L165.50 469.91L166.50 469.91L166.50 469.96L167.50 469.96L167.50 469.86L168.50 469.86L168.50 469.90L169.50 469.90L169.50 469.94L170.50 469.94" fill="none" stroke="#000" stroke-width="2.5" stroke-linejoin="miter"/>
<path d="M140.00 471.20L140.00 469.84L141.00 469.84L141.00 469.82L142.00 469.82L142.00 469.71L143.00 469.71L143.00 469.56L144.00 469.56L144.00 469.38L145.00 469.38L145.00 469.52L146.00 469.52L146.00 469.46L147.00 469.46L147.00 469.20L148.00 469.20L148.00 469.34L149.00 469.34L149.00 469.11L150.00 469.11L150.00 469.24L151.00 469.24L151.00 469.00L152.00 469.00L152.00 468.82L153.00 468.82L153.00 468.85L154.00 468.85L154.00 468.66L155.00 468.66L155.00 468.56L156.00 468.56L156.00 468.46L157.00 468.46L157.00 468.34L158.00 468.34L158.00 468.30L159.00 468.30L159.00 468.22L160.00 468.22L160.00 468.01L161.00 468.01L161.00 467.89L162.00 467.89L162.00 467.34L163.00 467.34L163.00 467.18L164.00 467.18L164.00 467.06L165.00 467.06L165.00 466.60L166.00 466.60L166.00 466.56L167.00 466.56L167.00 466.06L168.00 466.06L168.00 465.54L169.00 465.54L169.00 465.21L170.00 465.21L170.00 464.65L171.00 464.65L171.00 464.11L172.00 464.11L172.00 464.30L173.00 464.30L173.00 464.47L174.00 464.47L174.00 464.53L175.00 464.53L175.00 463.45L176.00 463.45L176.00 460.83L177.00 460.83L177.00 458.74L178.00 458.74L178.00 456.51L179.00 456.51L179.00 452.25L180.00 452.25L180.00 448.13L181.00 448.13L181.00 442.46L182.00 442.46L182.00 436.37L183.00 436.37L183.00 430.90L184.00 430.90L184.00 421.56L185.00 421.56L185.00 412.08L186.00 412.08L186.00 399.62L187.00 399.62L187.00 385.20L188.00 385.20L188.00 374.12L189.00 374.12L189.00 362.66L190.00 362.66L190.00 353.05L191.00 353.05L191.00 343.96L192.00 343.96L192.00 334.78L193.00 334.78L193.00 328.04L194.00 328.04L194.00 320.31L195.00 320.31L195.00 317.06L196.00 317.06L196.00 311.55L197.00 311.55L197.00 307.14L198.00 307.14L198.00 308.94L199.00 308.94L199.00 313.50L200.00 313.50L200.00 320.86L201.00 320.86L201.00 328.15L202.00 328.15L202.00 336.51L203.00 336.51L203.00 346.67L204.00 346.67L204.00 357.84L205.00 357.84L205.00 376.41L206.00 376.41L206.00 395.86L207.00 395.86L207.00 412.21L208.00 412.21L208.00 421.86L209.00 421.86L209.00 432.02L210.00 432.02L210.00 439.05L211.00 439.05L211.00 445.71L212.00 445.71L212.00 450.34L213.00 450.34L213.00 454.76L214.00 454.76L214.00 458.00L215.00 458.00L215.00 460.50L216.00 460.50L216.00 463.26L217.00 463.26L217.00 465.01L218.00 465.01L218.00 466.35L219.00 466.35L219.00 467.51L220.00 467.51L220.00 468.24L221.00 468.24L221.00 468.57L222.00 468.57L222.00 468.56L223.00 468.56L223.00 469.03L224.00 469.03L224.00 469.19L225.00 469.19L225.00 469.53L226.00 469.53L226.00 469.63L227.00 469.63L227.00 469.59L228.00 469.59L228.00 469.75L229.00 469.75L229.00 469.69L230.00 469.69L230.00 469.80L231.00 469.80L231.00 469.77L232.00 469.77L232.00 469.82L233.00 469.82L233.00 469.89L234.00 469.89L234.00 470.03L235.00 470.03L235.00 469.99L236.00 469.99L236.00 469.99L237.00 469.99L237.00 470.12L238.00 470.12L238.00 470.07L239.00 470.07L239.00 470.09L240.00 470.09L240.00 470.09L241.00 470.09L241.00 470.19L242.00 470.19L242.00 471.20Z" fill="#000" stroke="#000" stroke-width="0.6"/>
<rect x="48.60" y="277.60" width="193.60" height="193.60" fill="none" stroke="#000" stroke-width="1.35"/>
<path d="M48.60 470.80L242.20 470.80" stroke="#000" stroke-width="2.0" fill="none"/>
<path d="M49.30 471.20v7.4M63.79 471.20v3.6M72.27 471.20v3.6M78.29 471.20v3.6M82.96 471.20v3.6M86.77 471.20v3.6M89.99 471.20v3.6M92.78 471.20v3.6M95.25 471.20v3.6M97.45 471.20v7.4M111.94 471.20v3.6M120.42 471.20v3.6M126.44 471.20v3.6M131.11 471.20v3.6M134.92 471.20v3.6M138.14 471.20v3.6M140.93 471.20v3.6M143.40 471.20v3.6M145.60 471.20v7.4M160.09 471.20v3.6M168.57 471.20v3.6M174.59 471.20v3.6M179.26 471.20v3.6M183.07 471.20v3.6M186.29 471.20v3.6M189.08 471.20v3.6M191.55 471.20v3.6M193.75 471.20v7.4M208.24 471.20v3.6M216.72 471.20v3.6M222.74 471.20v3.6M227.41 471.20v3.6M231.22 471.20v3.6M234.44 471.20v3.6M237.23 471.20v3.6M239.70 471.20v3.6M241.90 471.20v7.4" stroke="#000" stroke-width="1.4" fill="none"/>
<text font-size="14.44" font-family='"Liberation Sans", sans-serif' font-weight="normal" text-anchor="end" transform="translate(52.50 493.80) scale(0.8 1)" stroke="#000" stroke-width="0.5" >10</text>
<text font-size="13.89" font-family='"Liberation Sans", sans-serif' font-weight="normal" text-anchor="start" transform="translate(53.20 486.60) scale(0.85 1)" stroke="#000" stroke-width="0.5" >0</text>
<text font-size="14.44" font-family='"Liberation Sans", sans-serif' font-weight="normal" text-anchor="end" transform="translate(100.65 493.80) scale(0.8 1)" stroke="#000" stroke-width="0.5" >10</text>
<text font-size="13.89" font-family='"Liberation Sans", sans-serif' font-weight="normal" text-anchor="start" transform="translate(101.35 486.60) scale(0.85 1)" stroke="#000" stroke-width="0.5" >1</text>
<text font-size="14.44" font-family='"Liberation Sans", sans-serif' font-weight="normal" text-anchor="end" transform="translate(148.80 493.80) scale(0.8 1)" stroke="#000" stroke-width="0.5" >10</text>
<text font-size="13.89" font-family='"Liberation Sans", sans-serif' font-weight="normal" text-anchor="start" transform="translate(149.50 486.60) scale(0.85 1)" stroke="#000" stroke-width="0.5" >2</text>
<text font-size="14.44" font-family='"Liberation Sans", sans-serif' font-weight="normal" text-anchor="end" transform="translate(196.95 493.80) scale(0.8 1)" stroke="#000" stroke-width="0.5" >10</text>
<text font-size="13.89" font-family='"Liberation Sans", sans-serif' font-weight="normal" text-anchor="start" transform="translate(197.65 486.60) scale(0.85 1)" stroke="#000" stroke-width="0.5" >3</text>
<text font-size="14.44" font-family='"Liberation Sans", sans-serif' font-weight="normal" text-anchor="end" transform="translate(245.10 493.80) scale(0.8 1)" stroke="#000" stroke-width="0.5" >10</text>
<text font-size="13.89" font-family='"Liberation Sans", sans-serif' font-weight="normal" text-anchor="start" transform="translate(245.80 486.60) scale(0.85 1)" stroke="#000" stroke-width="0.5" >4</text>
<path d="M48.60 471.00h-7.4M48.60 463.28h-3.6M48.60 455.55h-3.6M48.60 447.83h-3.6M48.60 440.10h-3.6M48.60 432.38h-7.4M48.60 424.66h-3.6M48.60 416.93h-3.6M48.60 409.21h-3.6M48.60 401.48h-3.6M48.60 393.76h-7.4M48.60 386.04h-3.6M48.60 378.31h-3.6M48.60 370.59h-3.6M48.60 362.86h-3.6M48.60 355.14h-7.4M48.60 347.42h-3.6M48.60 339.69h-3.6M48.60 331.97h-3.6M48.60 324.24h-3.6M48.60 316.52h-7.4M48.60 308.80h-3.6M48.60 301.07h-3.6M48.60 293.35h-3.6M48.60 285.62h-3.6M48.60 277.90h-7.4" stroke="#000" stroke-width="1.4" fill="none"/>
<text font-size="14.44" font-family='"Liberation Sans", sans-serif' font-weight="normal" text-anchor="middle" transform="translate(37.00 471.00) rotate(-90) scale(0.9 1)" stroke="#000" stroke-width="0.5" >0</text>
<text font-size="14.44" font-family='"Liberation Sans", sans-serif' font-weight="normal" text-anchor="middle" transform="translate(37.00 432.38) rotate(-90) scale(0.9 1)" stroke="#000" stroke-width="0.5" >40</text>
<text font-size="14.44" font-family='"Liberation Sans", sans-serif' font-weight="normal" text-anchor="middle" transform="translate(37.00 393.76) rotate(-90) scale(0.9 1)" stroke="#000" stroke-width="0.5" >80</text>
<text font-size="14.44" font-family='"Liberation Sans", sans-serif' font-weight="normal" text-anchor="middle" transform="translate(37.00 355.14) rotate(-90) scale(0.9 1)" stroke="#000" stroke-width="0.5" >120</text>
<text font-size="14.44" font-family='"Liberation Sans", sans-serif' font-weight="normal" text-anchor="middle" transform="translate(37.00 316.52) rotate(-90) scale(0.9 1)" stroke="#000" stroke-width="0.5" >160</text>
<text font-size="14.44" font-family='"Liberation Sans", sans-serif' font-weight="normal" text-anchor="middle" transform="translate(37.00 277.90) rotate(-90) scale(0.9 1)" stroke="#000" stroke-width="0.5" >200</text>
<text font-size="14.44" font-family='"Liberation Sans", sans-serif' font-weight="normal" text-anchor="middle" transform="translate(22.30 377.90) rotate(-90) scale(0.9 1)" stroke="#000" stroke-width="0.5" >Counts</text>
<text font-size="19.50" font-family='"Liberation Sans", sans-serif' font-weight="bold" text-anchor="middle" transform="translate(137.20 513.80)" stroke="#000" stroke-width="0.6" letter-spacing="2.3" >SIRP</text>
<text font-size="14.00" font-family='"Liberation Serif", serif' font-weight="normal" text-anchor="start" transform="translate(57.00 297.00)" stroke="#000" stroke-width="0.3" letter-spacing="0.85" >Monocytes</text>
<text font-size="14.00" font-family='"Liberation Serif", serif' font-weight="normal" text-anchor="start" transform="translate(57.00 317.40)" stroke="#000" stroke-width="0.3" letter-spacing="0.8" >Δ Median = 1000</text>
<path d="M316.20 421.03L317.20 421.03L317.20 421.39L318.20 421.39L318.20 458.51L319.20 458.51L319.20 457.17L320.20 457.17L320.20 455.50L321.20 455.50L321.20 454.95L322.20 454.95L322.20 453.32L323.20 453.32L323.20 451.94L324.20 451.94L324.20 450.18L325.20 450.18L325.20 448.80L326.20 448.80L326.20 446.85L327.20 446.85L327.20 445.92L328.20 445.92L328.20 442.27L329.20 442.27L329.20 439.53L330.20 439.53L330.20 436.75L331.20 436.75L331.20 434.24L332.20 434.24L332.20 432.59L333.20 432.59L333.20 430.08L334.20 430.08L334.20 429.01L335.20 429.01L335.20 428.30L336.20 428.30L336.20 428.15L337.20 428.15L337.20 427.12L338.20 427.12L338.20 427.02L339.20 427.02L339.20 426.97L340.20 426.97L340.20 426.02L341.20 426.02L341.20 423.95L342.20 423.95L342.20 420.91L343.20 420.91L343.20 417.47L344.20 417.47L344.20 412.30L345.20 412.30L345.20 407.17L346.20 407.17L346.20 403.56L347.20 403.56L347.20 398.54L348.20 398.54L348.20 394.31L349.20 394.31L349.20 390.75L350.20 390.75L350.20 387.30L351.20 387.30L351.20 383.75L352.20 383.75L352.20 382.35L353.20 382.35L353.20 380.32L354.20 380.32L354.20 381.10L355.20 381.10L355.20 382.35L356.20 382.35L356.20 382.82L357.20 382.82L357.20 382.10L358.20 382.10L358.20 380.93L359.20 380.93L359.20 380.82L360.20 380.82L360.20 381.11L361.20 381.11L361.20 382.71L362.20 382.71L362.20 387.98L363.20 387.98L363.20 392.85L364.20 392.85L364.20 398.07L365.20 398.07L365.20 406.76L366.20 406.76L366.20 412.08L367.20 412.08L367.20 418.32L368.20 418.32L368.20 423.80L369.20 423.80L369.20 428.12L370.20 428.12L370.20 432.73L371.20 432.73L371.20 435.65L372.20 435.65L372.20 438.65L373.20 438.65L373.20 442.84L374.20 442.84L374.20 447.76L375.20 447.76L375.20 451.03L376.20 451.03L376.20 453.27L377.20 453.27L377.20 456.12L378.20 456.12L378.20 457.56L379.20 457.56L379.20 458.98L380.20 458.98L380.20 460.16L381.20 460.16L381.20 461.65L382.20 461.65L382.20 462.84L383.20 462.84L383.20 463.87L384.20 463.87L384.20 465.68L385.20 465.68L385.20 466.61L386.20 466.61L386.20 467.52L387.20 467.52L387.20 468.34L388.20 468.34L388.20 468.95L389.20 468.95L389.20 469.68L390.20 469.68L390.20 470.41L391.20 470.41L391.20 470.60L392.20 470.60L392.20 470.78L393.20 470.78L393.20 470.79L394.20 470.79L394.20 470.82L395.20 470.82L395.20 470.95L396.20 470.95L396.20 470.99L397.20 470.99L397.20 471.02L398.20 471.02L398.20 471.12L399.20 471.12L399.20 471.18L400.20 471.18L400.20 471.20L401.20 471.20L401.20 471.18L402.20 471.18L402.20 471.17L403.20 471.17L403.20 471.11L404.20 471.11L404.20 471.12L405.20 471.12L405.20 471.08L406.20 471.08L406.20 471.10L407.20 471.10L407.20 471.03L408.20 471.03L408.20 470.99L409.20 470.99L409.20 471.03L410.20 471.03L410.20 471.10L411.20 471.10L411.20 471.04L412.20 471.04" fill="none" stroke="#000" stroke-width="2.5" stroke-linejoin="miter"/>
<rect x="315.2" y="420" width="3.4" height="52" fill="#000"/>
<path d="M395.00 472.10L395.00 471.37L396.00 471.37L396.00 471.29L397.00 471.29L397.00 471.18L398.00 471.18L398.00 471.17L399.00 471.17L399.00 471.08L400.00 471.08L400.00 471.01L401.00 471.01L401.00 470.89L402.00 470.89L402.00 470.87L403.00 470.87L403.00 470.82L404.00 470.82L404.00 470.64L405.00 470.64L405.00 470.47L406.00 470.47L406.00 470.31L407.00 470.31L407.00 469.97L408.00 469.97L408.00 469.75L409.00 469.75L409.00 468.31L410.00 468.31L410.00 466.62L411.00 466.62L411.00 465.21L412.00 465.21L412.00 461.32L413.00 461.32L413.00 456.91L414.00 456.91L414.00 450.37L415.00 450.37L415.00 438.40L416.00 438.40L416.00 424.21L417.00 424.21L417.00 409.59L418.00 409.59L418.00 394.01L419.00 394.01L419.00 379.00L420.00 379.00L420.00 366.07L421.00 366.07L421.00 353.86L422.00 353.86L422.00 341.44L423.00 341.44L423.00 335.45L424.00 335.45L424.00 329.76L425.00 329.76L425.00 328.20L426.00 328.20L426.00 329.11L427.00 329.11L427.00 328.63L428.00 328.63L428.00 333.20L429.00 333.20L429.00 337.52L430.00 337.52L430.00 346.08L431.00 346.08L431.00 361.34L432.00 361.34L432.00 376.07L433.00 376.07L433.00 389.35L434.00 389.35L434.00 401.83L435.00 401.83L435.00 413.50L436.00 413.50L436.00 428.73L437.00 428.73L437.00 446.12L438.00 446.12L438.00 453.31L439.00 453.31L439.00 458.93L440.00 458.93L440.00 461.45L441.00 461.45L441.00 464.47L442.00 464.47L442.00 466.11L443.00 466.11L443.00 467.33L444.00 467.33L444.00 468.74L445.00 468.74L445.00 469.42L446.00 469.42L446.00 469.90L447.00 469.90L447.00 470.32L448.00 470.32L448.00 470.67L449.00 470.67L449.00 470.89L450.00 470.89L450.00 471.07L451.00 471.07L451.00 471.09L452.00 471.09L452.00 471.14L453.00 471.14L453.00 471.26L454.00 471.26L454.00 471.23L455.00 471.23L455.00 471.39L456.00 471.39L456.00 471.26L457.00 471.26L457.00 471.23L458.00 471.23L458.00 471.36L459.00 471.36L459.00 471.41L460.00 471.41L460.00 471.48L461.00 471.48L461.00 471.41L462.00 471.41L462.00 471.43L463.00 471.43L463.00 471.46L464.00 471.46L464.00 471.58L465.00 471.58L465.00 471.44L466.00 471.44L466.00 471.54L467.00 471.54L467.00 471.55L468.00 471.55L468.00 471.54L469.00 471.54L469.00 471.58L470.00 471.58L470.00 471.61L471.00 471.61L471.00 471.57L472.00 471.57L472.00 471.61L473.00 471.61L473.00 471.63L474.00 471.63L474.00 471.64L475.00 471.64L475.00 471.60L476.00 471.60L476.00 471.61L477.00 471.61L477.00 471.62L478.00 471.62L478.00 471.65L479.00 471.65L479.00 471.63L480.00 471.63L480.00 471.67L481.00 471.67L481.00 471.65L482.00 471.65L482.00 471.58L483.00 471.58L483.00 471.67L484.00 471.67L484.00 471.61L485.00 471.61L485.00 471.66L486.00 471.66L486.00 471.64L487.00 471.64L487.00 471.68L488.00 471.68L488.00 471.65L489.00 471.65L489.00 471.65L490.00 471.65L490.00 471.60L491.00 471.60L491.00 471.70L492.00 471.70L492.00 471.66L493.00 471.66L493.00 471.65L494.00 471.65L494.00 471.71L495.00 471.71L495.00 471.68L496.00 471.68L496.00 471.68L497.00 471.68L497.00 471.69L498.00 471.69L498.00 471.68L499.00 471.68L499.00 471.64L500.00 471.64L500.00 471.64L501.00 471.64L501.00 471.71L502.00 471.71L502.00 471.72L503.00 471.72L503.00 471.70L504.00 471.70L504.00 471.70L505.00 471.70L505.00 471.72L506.00 471.72L506.00 471.73L507.00 471.73L507.00 471.71L508.00 471.71L508.00 471.73L509.00 471.73L509.00 471.73L510.00 471.73L509.50 472.10Z" fill="#000" stroke="#000" stroke-width="0.6"/>
<rect x="315.20" y="277.50" width="194.60" height="194.60" fill="none" stroke="#000" stroke-width="1.35"/>
<path d="M315.20 471.70L509.80 471.70" stroke="#000" stroke-width="2.0" fill="none"/>
<path d="M316.20 472.10v7.4M330.71 472.10v3.6M339.20 472.10v3.6M345.22 472.10v3.6M349.89 472.10v3.6M353.71 472.10v3.6M356.93 472.10v3.6M359.73 472.10v3.6M362.19 472.10v3.6M364.40 472.10v7.4M378.91 472.10v3.6M387.40 472.10v3.6M393.42 472.10v3.6M398.09 472.10v3.6M401.91 472.10v3.6M405.13 472.10v3.6M407.93 472.10v3.6M410.39 472.10v3.6M412.60 472.10v7.4M427.11 472.10v3.6M435.60 472.10v3.6M441.62 472.10v3.6M446.29 472.10v3.6M450.11 472.10v3.6M453.33 472.10v3.6M456.13 472.10v3.6M458.59 472.10v3.6M460.80 472.10v7.4M475.31 472.10v3.6M483.80 472.10v3.6M489.82 472.10v3.6M494.49 472.10v3.6M498.31 472.10v3.6M501.53 472.10v3.6M504.33 472.10v3.6M506.79 472.10v3.6M509.00 472.10v7.4" stroke="#000" stroke-width="1.4" fill="none"/>
<text font-size="14.44" font-family='"Liberation Sans", sans-serif' font-weight="normal" text-anchor="end" transform="translate(319.40 494.20) scale(0.8 1)" stroke="#000" stroke-width="0.5" >10</text>
<text font-size="13.89" font-family='"Liberation Sans", sans-serif' font-weight="normal" text-anchor="start" transform="translate(320.10 487.00) scale(0.85 1)" stroke="#000" stroke-width="0.5" >0</text>
<text font-size="14.44" font-family='"Liberation Sans", sans-serif' font-weight="normal" text-anchor="end" transform="translate(367.60 494.20) scale(0.8 1)" stroke="#000" stroke-width="0.5" >10</text>
<text font-size="13.89" font-family='"Liberation Sans", sans-serif' font-weight="normal" text-anchor="start" transform="translate(368.30 487.00) scale(0.85 1)" stroke="#000" stroke-width="0.5" >1</text>
<text font-size="14.44" font-family='"Liberation Sans", sans-serif' font-weight="normal" text-anchor="end" transform="translate(415.80 494.20) scale(0.8 1)" stroke="#000" stroke-width="0.5" >10</text>
<text font-size="13.89" font-family='"Liberation Sans", sans-serif' font-weight="normal" text-anchor="start" transform="translate(416.50 487.00) scale(0.85 1)" stroke="#000" stroke-width="0.5" >2</text>
<text font-size="14.44" font-family='"Liberation Sans", sans-serif' font-weight="normal" text-anchor="end" transform="translate(464.00 494.20) scale(0.8 1)" stroke="#000" stroke-width="0.5" >10</text>
<text font-size="13.89" font-family='"Liberation Sans", sans-serif' font-weight="normal" text-anchor="start" transform="translate(464.70 487.00) scale(0.85 1)" stroke="#000" stroke-width="0.5" >3</text>
<text font-size="14.44" font-family='"Liberation Sans", sans-serif' font-weight="normal" text-anchor="end" transform="translate(512.20 494.20) scale(0.8 1)" stroke="#000" stroke-width="0.5" >10</text>
<text font-size="13.89" font-family='"Liberation Sans", sans-serif' font-weight="normal" text-anchor="start" transform="translate(512.90 487.00) scale(0.85 1)" stroke="#000" stroke-width="0.5" >4</text>
<path d="M315.20 471.90h-7.4M315.20 464.14h-3.6M315.20 456.37h-3.6M315.20 448.61h-3.6M315.20 440.84h-3.6M315.20 433.08h-7.4M315.20 425.32h-3.6M315.20 417.55h-3.6M315.20 409.79h-3.6M315.20 402.02h-3.6M315.20 394.26h-7.4M315.20 386.50h-3.6M315.20 378.73h-3.6M315.20 370.97h-3.6M315.20 363.20h-3.6M315.20 355.44h-7.4M315.20 347.68h-3.6M315.20 339.91h-3.6M315.20 332.15h-3.6M315.20 324.38h-3.6M315.20 316.62h-7.4M315.20 308.86h-3.6M315.20 301.09h-3.6M315.20 293.33h-3.6M315.20 285.56h-3.6M315.20 277.80h-7.4" stroke="#000" stroke-width="1.4" fill="none"/>
<text font-size="14.44" font-family='"Liberation Sans", sans-serif' font-weight="normal" text-anchor="middle" transform="translate(303.60 471.90) rotate(-90) scale(0.9 1)" stroke="#000" stroke-width="0.5" >0</text>
<text font-size="14.44" font-family='"Liberation Sans", sans-serif' font-weight="normal" text-anchor="middle" transform="translate(303.60 433.08) rotate(-90) scale(0.9 1)" stroke="#000" stroke-width="0.5" >40</text>
<text font-size="14.44" font-family='"Liberation Sans", sans-serif' font-weight="normal" text-anchor="middle" transform="translate(303.60 394.26) rotate(-90) scale(0.9 1)" stroke="#000" stroke-width="0.5" >80</text>
<text font-size="14.44" font-family='"Liberation Sans", sans-serif' font-weight="normal" text-anchor="middle" transform="translate(303.60 355.44) rotate(-90) scale(0.9 1)" stroke="#000" stroke-width="0.5" >120</text>
<text font-size="14.44" font-family='"Liberation Sans", sans-serif' font-weight="normal" text-anchor="middle" transform="translate(303.60 316.62) rotate(-90) scale(0.9 1)" stroke="#000" stroke-width="0.5" >160</text>
<text font-size="14.44" font-family='"Liberation Sans", sans-serif' font-weight="normal" text-anchor="middle" transform="translate(303.60 277.80) rotate(-90) scale(0.9 1)" stroke="#000" stroke-width="0.5" >200</text>
<text font-size="14.44" font-family='"Liberation Sans", sans-serif' font-weight="normal" text-anchor="middle" transform="translate(288.90 378.30) rotate(-90) scale(0.9 1)" stroke="#000" stroke-width="0.5" >Counts</text>
<text font-size="19.50" font-family='"Liberation Sans", sans-serif' font-weight="bold" text-anchor="middle" transform="translate(407.20 514.60)" stroke="#000" stroke-width="0.6" letter-spacing="2.3" >SIRP</text>
<text font-size="14.00" font-family='"Liberation Serif", serif' font-weight="normal" text-anchor="start" transform="translate(326.20 299.60)" stroke="#000" stroke-width="0.3" letter-spacing="0.85" >Granulocytes</text>
<text font-size="14.00" font-family='"Liberation Serif", serif' font-weight="normal" text-anchor="start" transform="translate(326.20 318.80)" stroke="#000" stroke-width="0.3" letter-spacing="0.8" >Δ Median = 200</text>
<path d="M318.00 738.73L319.00 738.73L319.00 738.59L320.00 738.59L320.00 738.50L321.00 738.50L321.00 738.34L322.00 738.34L322.00 737.97L323.00 737.97L323.00 737.08L324.00 737.08L324.00 736.19L325.00 736.19L325.00 735.16L326.00 735.16L326.00 733.85L327.00 733.85L327.00 732.33L328.00 732.33L328.00 730.51L329.00 730.51L329.00 728.22L330.00 728.22L330.00 726.09L331.00 726.09L331.00 722.91L332.00 722.91L332.00 718.51L333.00 718.51L333.00 714.52L334.00 714.52L334.00 710.50L335.00 710.50L335.00 705.76L336.00 705.76L336.00 700.29L337.00 700.29L337.00 694.57L338.00 694.57L338.00 689.19L339.00 689.19L339.00 682.68L340.00 682.68L340.00 677.25L341.00 677.25L341.00 671.94L342.00 671.94L342.00 665.90L343.00 665.90L343.00 660.50L344.00 660.50L344.00 656.13L345.00 656.13L345.00 650.83L346.00 650.83L346.00 647.38L347.00 647.38L347.00 644.52L348.00 644.52L348.00 642.03L349.00 642.03L349.00 640.02L350.00 640.02L350.00 639.11L351.00 639.11L351.00 637.94L352.00 637.94L352.00 638.18L353.00 638.18L353.00 639.23L354.00 639.23L354.00 640.41L355.00 640.41L355.00 644.29L356.00 644.29L356.00 648.47L357.00 648.47L357.00 655.39L358.00 655.39L358.00 657.09L359.00 657.09L359.00 659.05L360.00 659.05L360.00 662.12L361.00 662.12L361.00 665.04L362.00 665.04L362.00 668.25L363.00 668.25L363.00 672.57L364.00 672.57L364.00 678.28L365.00 678.28L365.00 682.84L366.00 682.84L366.00 686.19L367.00 686.19L367.00 690.39L368.00 690.39L368.00 696.20L369.00 696.20L369.00 701.41L370.00 701.41L370.00 705.95L371.00 705.95L371.00 709.45L372.00 709.45L372.00 713.07L373.00 713.07L373.00 716.66L374.00 716.66L374.00 720.56L375.00 720.56L375.00 723.80L376.00 723.80L376.00 726.61L377.00 726.61L377.00 728.36L378.00 728.36L378.00 729.73L379.00 729.73L379.00 731.48L380.00 731.48L380.00 732.20L381.00 732.20L381.00 733.29L382.00 733.29L382.00 734.53L383.00 734.53L383.00 734.87L384.00 734.87L384.00 735.20L385.00 735.20L385.00 735.70L386.00 735.70L386.00 735.75L387.00 735.75L387.00 736.11L388.00 736.11L388.00 736.47L389.00 736.47L389.00 736.72L390.00 736.72L390.00 736.99L391.00 736.99L391.00 737.22L392.00 737.22L392.00 737.54L393.00 737.54L393.00 737.77L394.00 737.77L394.00 738.00L395.00 738.00L395.00 738.10L396.00 738.10L396.00 738.17L397.00 738.17L397.00 738.19L398.00 738.19L398.00 738.37L399.00 738.37L399.00 738.35L400.00 738.35L400.00 738.52L401.00 738.52L401.00 738.62L402.00 738.62L402.00 738.59L403.00 738.59L403.00 738.68L404.00 738.68L404.00 738.75L405.00 738.75L405.00 738.82L406.00 738.82L406.00 738.80L407.00 738.80L407.00 738.83L408.00 738.83L408.00 738.84L409.00 738.84L409.00 738.86L410.00 738.86L410.00 738.90L411.00 738.90L411.00 738.87L412.00 738.87L412.00 738.90L413.00 738.90L413.00 738.92L414.00 738.92L414.00 738.94L415.00 738.94L415.00 738.92L416.00 738.92L416.00 738.97L417.00 738.97L417.00 738.97L418.00 738.97L418.00 738.99L419.00 738.99L419.00 738.99L420.00 738.99" fill="none" stroke="#000" stroke-width="2.5" stroke-linejoin="miter"/>
<path d="M420.00 739.70L420.00 739.28L421.00 739.28L421.00 739.18L422.00 739.18L422.00 739.15L423.00 739.15L423.00 739.01L424.00 739.01L424.00 739.05L425.00 739.05L425.00 738.89L426.00 738.89L426.00 738.89L427.00 738.89L427.00 738.83L428.00 738.83L428.00 738.56L429.00 738.56L429.00 738.38L430.00 738.38L430.00 737.76L431.00 737.76L431.00 737.44L432.00 737.44L432.00 737.41L433.00 737.41L433.00 737.16L434.00 737.16L434.00 737.29L435.00 737.29L435.00 737.10L436.00 737.10L436.00 737.12L437.00 737.12L437.00 736.43L438.00 736.43L438.00 735.43L439.00 735.43L439.00 734.69L440.00 734.69L440.00 733.64L441.00 733.64L441.00 732.62L442.00 732.62L442.00 729.38L443.00 729.38L443.00 726.05L444.00 726.05L444.00 722.38L445.00 722.38L445.00 718.80L446.00 718.80L446.00 713.80L447.00 713.80L447.00 707.91L448.00 707.91L448.00 701.92L449.00 701.92L449.00 696.57L450.00 696.57L450.00 690.78L451.00 690.78L451.00 683.52L452.00 683.52L452.00 675.78L453.00 675.78L453.00 667.69L454.00 667.69L454.00 659.94L455.00 659.94L455.00 652.61L456.00 652.61L456.00 644.62L457.00 644.62L457.00 637.27L458.00 637.27L458.00 629.35L459.00 629.35L459.00 618.75L460.00 618.75L460.00 608.58L461.00 608.58L461.00 600.48L462.00 600.48L462.00 594.82L463.00 594.82L463.00 588.10L464.00 588.10L464.00 583.22L465.00 583.22L465.00 582.73L466.00 582.73L466.00 586.83L467.00 586.83L467.00 591.99L468.00 591.99L468.00 592.36L469.00 592.36L469.00 598.24L470.00 598.24L470.00 601.81L471.00 601.81L471.00 605.93L472.00 605.93L472.00 615.57L473.00 615.57L473.00 628.89L474.00 628.89L474.00 641.42L475.00 641.42L475.00 655.10L476.00 655.10L476.00 669.57L477.00 669.57L477.00 683.73L478.00 683.73L478.00 695.33L479.00 695.33L479.00 704.47L480.00 704.47L480.00 713.94L481.00 713.94L481.00 721.13L482.00 721.13L482.00 726.53L483.00 726.53L483.00 732.14L484.00 732.14L484.00 734.63L485.00 734.63L485.00 736.76L486.00 736.76L486.00 737.64L487.00 737.64L487.00 738.31L488.00 738.31L488.00 738.69L489.00 738.69L489.00 738.97L490.00 738.97L490.00 739.05L491.00 739.05L491.00 739.10L492.00 739.10L492.00 739.17L493.00 739.17L493.00 739.09L494.00 739.09L494.00 739.24L495.00 739.24L495.00 739.26L496.00 739.26L496.00 739.19L497.00 739.19L497.00 739.21L498.00 739.21L498.00 739.21L499.00 739.21L499.00 739.21L500.00 739.21L500.00 739.19L501.00 739.19L501.00 739.19L502.00 739.19L502.00 739.25L503.00 739.25L503.00 739.27L504.00 739.27L504.00 739.33L505.00 739.33L505.00 739.24L506.00 739.24L506.00 739.21L507.00 739.21L507.00 739.29L508.00 739.29L508.00 739.28L509.00 739.28L509.00 739.31L510.00 739.31L509.50 739.70Z" fill="#000" stroke="#000" stroke-width="0.6"/>
<rect x="315.20" y="545.60" width="194.60" height="194.10" fill="none" stroke="#000" stroke-width="1.35"/>
<path d="M315.20 739.30L509.80 739.30" stroke="#000" stroke-width="2.0" fill="none"/>
<path d="M316.20 739.70v7.4M330.71 739.70v3.6M339.20 739.70v3.6M345.22 739.70v3.6M349.89 739.70v3.6M353.71 739.70v3.6M356.93 739.70v3.6M359.73 739.70v3.6M362.19 739.70v3.6M364.40 739.70v7.4M378.91 739.70v3.6M387.40 739.70v3.6M393.42 739.70v3.6M398.09 739.70v3.6M401.91 739.70v3.6M405.13 739.70v3.6M407.93 739.70v3.6M410.39 739.70v3.6M412.60 739.70v7.4M427.11 739.70v3.6M435.60 739.70v3.6M441.62 739.70v3.6M446.29 739.70v3.6M450.11 739.70v3.6M453.33 739.70v3.6M456.13 739.70v3.6M458.59 739.70v3.6M460.80 739.70v7.4M475.31 739.70v3.6M483.80 739.70v3.6M489.82 739.70v3.6M494.49 739.70v3.6M498.31 739.70v3.6M501.53 739.70v3.6M504.33 739.70v3.6M506.79 739.70v3.6M509.00 739.70v7.4" stroke="#000" stroke-width="1.4" fill="none"/>
<text font-size="14.44" font-family='"Liberation Sans", sans-serif' font-weight="normal" text-anchor="end" transform="translate(319.40 761.50) scale(0.8 1)" stroke="#000" stroke-width="0.5" >10</text>
<text font-size="13.89" font-family='"Liberation Sans", sans-serif' font-weight="normal" text-anchor="start" transform="translate(320.10 754.30) scale(0.85 1)" stroke="#000" stroke-width="0.5" >0</text>
<text font-size="14.44" font-family='"Liberation Sans", sans-serif' font-weight="normal" text-anchor="end" transform="translate(367.60 761.50) scale(0.8 1)" stroke="#000" stroke-width="0.5" >10</text>
<text font-size="13.89" font-family='"Liberation Sans", sans-serif' font-weight="normal" text-anchor="start" transform="translate(368.30 754.30) scale(0.85 1)" stroke="#000" stroke-width="0.5" >1</text>
<text font-size="14.44" font-family='"Liberation Sans", sans-serif' font-weight="normal" text-anchor="end" transform="translate(415.80 761.50) scale(0.8 1)" stroke="#000" stroke-width="0.5" >10</text>
<text font-size="13.89" font-family='"Liberation Sans", sans-serif' font-weight="normal" text-anchor="start" transform="translate(416.50 754.30) scale(0.85 1)" stroke="#000" stroke-width="0.5" >2</text>
<text font-size="14.44" font-family='"Liberation Sans", sans-serif' font-weight="normal" text-anchor="end" transform="translate(464.00 761.50) scale(0.8 1)" stroke="#000" stroke-width="0.5" >10</text>
<text font-size="13.89" font-family='"Liberation Sans", sans-serif' font-weight="normal" text-anchor="start" transform="translate(464.70 754.30) scale(0.85 1)" stroke="#000" stroke-width="0.5" >3</text>
<text font-size="14.44" font-family='"Liberation Sans", sans-serif' font-weight="normal" text-anchor="end" transform="translate(512.20 761.50) scale(0.8 1)" stroke="#000" stroke-width="0.5" >10</text>
<text font-size="13.89" font-family='"Liberation Sans", sans-serif' font-weight="normal" text-anchor="start" transform="translate(512.90 754.30) scale(0.85 1)" stroke="#000" stroke-width="0.5" >4</text>
<path d="M315.20 739.50h-7.4M315.20 731.76h-3.6M315.20 724.01h-3.6M315.20 716.27h-3.6M315.20 708.52h-3.6M315.20 700.78h-7.4M315.20 693.04h-3.6M315.20 685.29h-3.6M315.20 677.55h-3.6M315.20 669.80h-3.6M315.20 662.06h-7.4M315.20 654.32h-3.6M315.20 646.57h-3.6M315.20 638.83h-3.6M315.20 631.08h-3.6M315.20 623.34h-7.4M315.20 615.60h-3.6M315.20 607.85h-3.6M315.20 600.11h-3.6M315.20 592.36h-3.6M315.20 584.62h-7.4M315.20 576.88h-3.6M315.20 569.13h-3.6M315.20 561.39h-3.6M315.20 553.64h-3.6M315.20 545.90h-7.4" stroke="#000" stroke-width="1.4" fill="none"/>
<text font-size="14.44" font-family='"Liberation Sans", sans-serif' font-weight="normal" text-anchor="middle" transform="translate(303.60 739.50) rotate(-90) scale(0.9 1)" stroke="#000" stroke-width="0.5" >0</text>
<text font-size="14.44" font-family='"Liberation Sans", sans-serif' font-weight="normal" text-anchor="middle" transform="translate(303.60 700.78) rotate(-90) scale(0.9 1)" stroke="#000" stroke-width="0.5" >20</text>
<text font-size="14.44" font-family='"Liberation Sans", sans-serif' font-weight="normal" text-anchor="middle" transform="translate(303.60 662.06) rotate(-90) scale(0.9 1)" stroke="#000" stroke-width="0.5" >40</text>
<text font-size="14.44" font-family='"Liberation Sans", sans-serif' font-weight="normal" text-anchor="middle" transform="translate(303.60 623.34) rotate(-90) scale(0.9 1)" stroke="#000" stroke-width="0.5" >60</text>
<text font-size="14.44" font-family='"Liberation Sans", sans-serif' font-weight="normal" text-anchor="middle" transform="translate(303.60 584.62) rotate(-90) scale(0.9 1)" stroke="#000" stroke-width="0.5" >80</text>
<text font-size="14.44" font-family='"Liberation Sans", sans-serif' font-weight="normal" text-anchor="middle" transform="translate(303.60 545.90) rotate(-90) scale(0.9 1)" stroke="#000" stroke-width="0.5" >100</text>
<text font-size="14.44" font-family='"Liberation Sans", sans-serif' font-weight="normal" text-anchor="middle" transform="translate(288.90 646.15) rotate(-90) scale(0.9 1)" stroke="#000" stroke-width="0.5" >Counts</text>
<text font-size="19.50" font-family='"Liberation Sans", sans-serif' font-weight="bold" text-anchor="middle" transform="translate(405.30 783.00)" stroke="#000" stroke-width="0.6" letter-spacing="2.3" >SIRP</text>
<text font-size="14.00" font-family='"Liberation Serif", serif' font-weight="normal" text-anchor="start" transform="translate(321.00 566.60)" stroke="#000" stroke-width="0.3" letter-spacing="0.85" >Dendritic <tspan dx="2.2">cells</tspan></text>
<text font-size="14.00" font-family='"Liberation Serif", serif' font-weight="normal" text-anchor="start" transform="translate(321.00 586.20)" stroke="#000" stroke-width="0.3" letter-spacing="0.8" >Δ Median = 1000</text>
<text font-size="14.00" font-family='"Liberation Serif", serif' font-weight="normal" text-anchor="start" transform="translate(397.00 629.50)" stroke="#000" stroke-width="0.3" letter-spacing="1.2" >CD83+</text>
<path d="M148 609h2v1h-2zM109 610h4v1h-4zM123 610h1v1h-1zM144 610h1v1h-1zM147 610h4v1h-4zM109 611h2v1h-2zM115 611h1v1h-1zM119 611h1v1h-1zM125 611h1v1h-1zM154 611h2v1h-2zM158 611h4v1h-4zM120 612h2v1h-2zM138 612h2v1h-2zM144 612h1v1h-1zM149 612h1v1h-1zM154 612h2v1h-2zM158 612h4v1h-4zM113 613h2v1h-2zM126 613h3v1h-3zM134 613h2v1h-2zM138 613h1v1h-1zM143 613h1v1h-1zM145 613h2v1h-2zM106 614h2v1h-2zM114 614h2v1h-2zM118 614h1v1h-1zM120 614h1v1h-1zM124 614h1v1h-1zM126 614h2v1h-2zM129 614h1v1h-1zM133 614h4v1h-4zM138 614h4v1h-4zM143 614h2v1h-2zM148 614h1v1h-1zM151 614h1v1h-1zM111 615h1v1h-1zM124 615h1v1h-1zM127 615h6v1h-6zM134 615h1v1h-1zM136 615h2v1h-2zM140 615h1v1h-1zM151 615h2v1h-2zM166 615h2v1h-2zM108 616h1v1h-1zM111 616h1v1h-1zM113 616h2v1h-2zM125 616h3v1h-3zM132 616h1v1h-1zM135 616h2v1h-2zM140 616h1v1h-1zM147 616h1v1h-1zM149 616h2v1h-2zM152 616h1v1h-1zM109 617h1v1h-1zM115 617h1v1h-1zM123 617h2v1h-2zM127 617h3v1h-3zM131 617h1v1h-1zM133 617h1v1h-1zM135 617h3v1h-3zM139 617h1v1h-1zM141 617h1v1h-1zM145 617h1v1h-1zM149 617h3v1h-3zM158 617h3v1h-3zM107 618h8v1h-8zM119 618h5v1h-5zM125 618h1v1h-1zM127 618h1v1h-1zM129 618h3v1h-3zM133 618h2v1h-2zM136 618h1v1h-1zM139 618h2v1h-2zM142 618h5v1h-5zM150 618h2v1h-2zM170 618h2v1h-2zM114 619h1v1h-1zM121 619h5v1h-5zM128 619h1v1h-1zM130 619h7v1h-7zM144 619h5v1h-5zM150 619h1v1h-1zM162 619h1v1h-1zM111 620h2v1h-2zM114 620h1v1h-1zM118 620h1v1h-1zM121 620h2v1h-2zM124 620h5v1h-5zM130 620h2v1h-2zM138 620h3v1h-3zM144 620h7v1h-7zM153 620h1v1h-1zM159 620h1v1h-1zM163 620h1v1h-1zM102 621h1v1h-1zM109 621h2v1h-2zM113 621h3v1h-3zM118 621h1v1h-1zM120 621h1v1h-1zM124 621h3v1h-3zM129 621h1v1h-1zM131 621h1v1h-1zM135 621h1v1h-1zM139 621h2v1h-2zM144 621h2v1h-2zM147 621h1v1h-1zM149 621h2v1h-2zM154 621h2v1h-2zM159 621h1v1h-1zM110 622h4v1h-4zM116 622h1v1h-1zM118 622h1v1h-1zM121 622h1v1h-1zM123 622h1v1h-1zM125 622h3v1h-3zM129 622h2v1h-2zM135 622h2v1h-2zM138 622h2v1h-2zM141 622h2v1h-2zM144 622h1v1h-1zM147 622h1v1h-1zM149 622h2v1h-2zM152 622h1v1h-1zM154 622h1v1h-1zM157 622h2v1h-2zM162 622h1v1h-1zM107 623h1v1h-1zM115 623h3v1h-3zM120 623h3v1h-3zM124 623h6v1h-6zM131 623h1v1h-1zM133 623h7v1h-7zM143 623h1v1h-1zM146 623h1v1h-1zM149 623h4v1h-4zM158 623h1v1h-1zM106 624h1v1h-1zM112 624h1v1h-1zM114 624h1v1h-1zM116 624h3v1h-3zM120 624h2v1h-2zM123 624h1v1h-1zM126 624h3v1h-3zM131 624h14v1h-14zM147 624h1v1h-1zM149 624h2v1h-2zM158 624h2v1h-2zM100 625h1v1h-1zM103 625h2v1h-2zM106 625h2v1h-2zM114 625h1v1h-1zM116 625h2v1h-2zM119 625h2v1h-2zM122 625h2v1h-2zM125 625h4v1h-4zM130 625h7v1h-7zM139 625h3v1h-3zM144 625h3v1h-3zM148 625h1v1h-1zM151 625h1v1h-1zM153 625h1v1h-1zM158 625h1v1h-1zM105 626h1v1h-1zM108 626h3v1h-3zM115 626h21v1h-21zM137 626h3v1h-3zM141 626h1v1h-1zM143 626h2v1h-2zM146 626h4v1h-4zM151 626h1v1h-1zM155 626h1v1h-1zM164 626h1v1h-1zM104 627h1v1h-1zM106 627h4v1h-4zM111 627h5v1h-5zM117 627h2v1h-2zM120 627h1v1h-1zM122 627h4v1h-4zM127 627h14v1h-14zM143 627h1v1h-1zM145 627h7v1h-7zM159 627h2v1h-2zM106 628h1v1h-1zM110 628h1v1h-1zM112 628h7v1h-7zM120 628h1v1h-1zM122 628h3v1h-3zM126 628h20v1h-20zM149 628h2v1h-2zM155 628h1v1h-1zM157 628h1v1h-1zM159 628h1v1h-1zM161 628h2v1h-2zM98 629h3v1h-3zM108 629h8v1h-8zM117 629h29v1h-29zM150 629h4v1h-4zM155 629h2v1h-2zM100 630h3v1h-3zM111 630h8v1h-8zM120 630h2v1h-2zM123 630h5v1h-5zM129 630h9v1h-9zM140 630h6v1h-6zM147 630h5v1h-5zM153 630h2v1h-2zM156 630h2v1h-2zM165 630h1v1h-1zM169 630h2v1h-2zM101 631h1v1h-1zM103 631h3v1h-3zM107 631h2v1h-2zM111 631h8v1h-8zM121 631h1v1h-1zM123 631h4v1h-4zM129 631h9v1h-9zM139 631h3v1h-3zM143 631h7v1h-7zM151 631h1v1h-1zM156 631h2v1h-2zM164 631h2v1h-2zM109 632h2v1h-2zM112 632h2v1h-2zM116 632h7v1h-7zM124 632h3v1h-3zM129 632h8v1h-8zM138 632h3v1h-3zM142 632h10v1h-10zM154 632h3v1h-3zM158 632h1v1h-1zM170 632h2v1h-2zM105 633h2v1h-2zM108 633h1v1h-1zM110 633h1v1h-1zM112 633h1v1h-1zM114 633h14v1h-14zM129 633h7v1h-7zM137 633h3v1h-3zM141 633h1v1h-1zM143 633h4v1h-4zM148 633h1v1h-1zM150 633h1v1h-1zM156 633h2v1h-2zM163 633h2v1h-2zM103 634h1v1h-1zM106 634h4v1h-4zM111 634h17v1h-17zM129 634h9v1h-9zM139 634h1v1h-1zM142 634h6v1h-6zM150 634h3v1h-3zM155 634h4v1h-4zM160 634h2v1h-2zM163 634h4v1h-4zM103 635h1v1h-1zM106 635h8v1h-8zM115 635h13v1h-13zM129 635h7v1h-7zM137 635h1v1h-1zM139 635h7v1h-7zM147 635h2v1h-2zM151 635h1v1h-1zM154 635h2v1h-2zM157 635h6v1h-6zM165 635h1v1h-1zM169 635h1v1h-1zM174 635h1v1h-1zM102 636h1v1h-1zM108 636h2v1h-2zM114 636h22v1h-22zM138 636h9v1h-9zM148 636h1v1h-1zM151 636h3v1h-3zM155 636h4v1h-4zM162 636h1v1h-1zM164 636h2v1h-2zM102 637h1v1h-1zM104 637h2v1h-2zM108 637h2v1h-2zM112 637h37v1h-37zM151 637h4v1h-4zM156 637h2v1h-2zM160 637h1v1h-1zM162 637h4v1h-4zM167 637h1v1h-1zM100 638h1v1h-1zM103 638h1v1h-1zM105 638h1v1h-1zM108 638h40v1h-40zM151 638h5v1h-5zM158 638h2v1h-2zM162 638h2v1h-2zM99 639h2v1h-2zM102 639h2v1h-2zM105 639h2v1h-2zM108 639h1v1h-1zM110 639h5v1h-5zM116 639h3v1h-3zM121 639h23v1h-23zM145 639h2v1h-2zM150 639h5v1h-5zM156 639h1v1h-1zM158 639h1v1h-1zM160 639h1v1h-1zM169 639h1v1h-1zM171 639h1v1h-1zM173 639h2v1h-2zM101 640h2v1h-2zM104 640h1v1h-1zM110 640h2v1h-2zM113 640h31v1h-31zM146 640h9v1h-9zM160 640h1v1h-1zM167 640h1v1h-1zM172 640h1v1h-1zM104 641h7v1h-7zM114 641h9v1h-9zM124 641h29v1h-29zM154 641h1v1h-1zM160 641h1v1h-1zM163 641h1v1h-1zM167 641h1v1h-1zM103 642h2v1h-2zM106 642h5v1h-5zM113 642h7v1h-7zM122 642h5v1h-5zM128 642h21v1h-21zM151 642h5v1h-5zM158 642h1v1h-1zM164 642h1v1h-1zM167 642h3v1h-3zM102 643h5v1h-5zM108 643h4v1h-4zM113 643h5v1h-5zM121 643h29v1h-29zM152 643h3v1h-3zM158 643h1v1h-1zM163 643h2v1h-2zM167 643h1v1h-1zM174 643h2v1h-2zM102 644h2v1h-2zM106 644h1v1h-1zM108 644h3v1h-3zM113 644h46v1h-46zM163 644h5v1h-5zM171 644h1v1h-1zM98 645h1v1h-1zM103 645h1v1h-1zM109 645h40v1h-40zM150 645h7v1h-7zM158 645h2v1h-2zM162 645h1v1h-1zM166 645h2v1h-2zM171 645h1v1h-1zM102 646h1v1h-1zM105 646h1v1h-1zM107 646h1v1h-1zM111 646h11v1h-11zM123 646h15v1h-15zM139 646h10v1h-10zM151 646h5v1h-5zM157 646h7v1h-7zM166 646h1v1h-1zM99 647h1v1h-1zM106 647h1v1h-1zM109 647h3v1h-3zM114 647h23v1h-23zM138 647h12v1h-12zM151 647h5v1h-5zM159 647h6v1h-6zM168 647h1v1h-1zM170 647h2v1h-2zM100 648h1v1h-1zM106 648h2v1h-2zM109 648h29v1h-29zM141 648h3v1h-3zM145 648h2v1h-2zM148 648h1v1h-1zM150 648h1v1h-1zM152 648h1v1h-1zM161 648h1v1h-1zM163 648h1v1h-1zM168 648h3v1h-3zM172 648h2v1h-2zM97 649h2v1h-2zM104 649h1v1h-1zM106 649h31v1h-31zM141 649h2v1h-2zM144 649h11v1h-11zM157 649h2v1h-2zM160 649h1v1h-1zM166 649h2v1h-2zM169 649h2v1h-2zM97 650h1v1h-1zM101 650h1v1h-1zM106 650h8v1h-8zM115 650h1v1h-1zM117 650h37v1h-37zM156 650h2v1h-2zM160 650h3v1h-3zM164 650h1v1h-1zM166 650h1v1h-1zM169 650h1v1h-1zM178 650h2v1h-2zM98 651h1v1h-1zM102 651h5v1h-5zM109 651h1v1h-1zM111 651h34v1h-34zM146 651h6v1h-6zM153 651h3v1h-3zM157 651h1v1h-1zM159 651h1v1h-1zM164 651h2v1h-2zM167 651h1v1h-1zM169 651h3v1h-3zM178 651h2v1h-2zM81 652h2v1h-2zM102 652h1v1h-1zM108 652h36v1h-36zM147 652h7v1h-7zM155 652h2v1h-2zM158 652h2v1h-2zM162 652h1v1h-1zM165 652h1v1h-1zM170 652h1v1h-1zM102 653h2v1h-2zM108 653h1v1h-1zM110 653h7v1h-7zM118 653h1v1h-1zM121 653h23v1h-23zM147 653h6v1h-6zM154 653h2v1h-2zM159 653h1v1h-1zM161 653h2v1h-2zM164 653h2v1h-2zM171 653h1v1h-1zM173 653h2v1h-2zM100 654h4v1h-4zM108 654h1v1h-1zM110 654h33v1h-33zM144 654h1v1h-1zM146 654h2v1h-2zM149 654h3v1h-3zM166 654h1v1h-1zM170 654h1v1h-1zM176 654h1v1h-1zM102 655h2v1h-2zM109 655h1v1h-1zM111 655h33v1h-33zM146 655h4v1h-4zM151 655h1v1h-1zM153 655h2v1h-2zM156 655h1v1h-1zM158 655h2v1h-2zM161 655h3v1h-3zM165 655h2v1h-2zM168 655h1v1h-1zM98 656h1v1h-1zM107 656h3v1h-3zM113 656h1v1h-1zM115 656h34v1h-34zM151 656h4v1h-4zM157 656h1v1h-1zM159 656h1v1h-1zM162 656h2v1h-2zM167 656h2v1h-2zM170 656h2v1h-2zM176 656h4v1h-4zM100 657h1v1h-1zM102 657h3v1h-3zM108 657h41v1h-41zM150 657h3v1h-3zM154 657h2v1h-2zM157 657h1v1h-1zM160 657h2v1h-2zM164 657h1v1h-1zM166 657h2v1h-2zM173 657h1v1h-1zM175 657h2v1h-2zM99 658h1v1h-1zM101 658h1v1h-1zM103 658h1v1h-1zM105 658h1v1h-1zM107 658h2v1h-2zM111 658h12v1h-12zM124 658h1v1h-1zM126 658h23v1h-23zM150 658h1v1h-1zM152 658h6v1h-6zM160 658h1v1h-1zM164 658h2v1h-2zM167 658h3v1h-3zM175 658h1v1h-1zM100 659h2v1h-2zM103 659h3v1h-3zM109 659h2v1h-2zM112 659h1v1h-1zM114 659h9v1h-9zM124 659h2v1h-2zM128 659h5v1h-5zM134 659h16v1h-16zM151 659h4v1h-4zM156 659h1v1h-1zM160 659h1v1h-1zM162 659h3v1h-3zM166 659h1v1h-1zM170 659h1v1h-1zM174 659h3v1h-3zM98 660h1v1h-1zM103 660h2v1h-2zM106 660h1v1h-1zM108 660h3v1h-3zM113 660h13v1h-13zM127 660h6v1h-6zM134 660h6v1h-6zM141 660h28v1h-28zM171 660h2v1h-2zM175 660h1v1h-1zM96 661h1v1h-1zM98 661h1v1h-1zM100 661h1v1h-1zM103 661h7v1h-7zM112 661h5v1h-5zM118 661h20v1h-20zM139 661h6v1h-6zM146 661h3v1h-3zM152 661h4v1h-4zM159 661h1v1h-1zM161 661h6v1h-6zM169 661h1v1h-1zM171 661h3v1h-3zM175 661h1v1h-1zM96 662h1v1h-1zM99 662h1v1h-1zM102 662h8v1h-8zM111 662h2v1h-2zM114 662h25v1h-25zM140 662h2v1h-2zM143 662h2v1h-2zM146 662h2v1h-2zM149 662h1v1h-1zM152 662h5v1h-5zM158 662h2v1h-2zM162 662h1v1h-1zM167 662h2v1h-2zM171 662h1v1h-1zM178 662h2v1h-2zM103 663h1v1h-1zM105 663h8v1h-8zM115 663h4v1h-4zM121 663h14v1h-14zM136 663h1v1h-1zM139 663h6v1h-6zM146 663h3v1h-3zM152 663h6v1h-6zM160 663h1v1h-1zM162 663h1v1h-1zM166 663h1v1h-1zM170 663h4v1h-4zM97 664h1v1h-1zM100 664h7v1h-7zM108 664h1v1h-1zM111 664h1v1h-1zM113 664h3v1h-3zM117 664h1v1h-1zM119 664h16v1h-16zM137 664h12v1h-12zM152 664h3v1h-3zM156 664h1v1h-1zM160 664h3v1h-3zM164 664h1v1h-1zM166 664h1v1h-1zM174 664h1v1h-1zM177 664h2v1h-2zM100 665h7v1h-7zM108 665h2v1h-2zM111 665h1v1h-1zM113 665h2v1h-2zM117 665h23v1h-23zM142 665h4v1h-4zM147 665h4v1h-4zM153 665h1v1h-1zM156 665h1v1h-1zM158 665h3v1h-3zM162 665h5v1h-5zM168 665h3v1h-3zM172 665h1v1h-1zM175 665h1v1h-1zM177 665h1v1h-1zM97 666h2v1h-2zM100 666h2v1h-2zM103 666h1v1h-1zM105 666h2v1h-2zM108 666h1v1h-1zM113 666h2v1h-2zM117 666h4v1h-4zM122 666h1v1h-1zM125 666h6v1h-6zM132 666h3v1h-3zM136 666h8v1h-8zM145 666h1v1h-1zM148 666h2v1h-2zM151 666h1v1h-1zM153 666h1v1h-1zM157 666h1v1h-1zM162 666h2v1h-2zM165 666h1v1h-1zM168 666h3v1h-3zM173 666h3v1h-3zM177 666h1v1h-1zM99 667h6v1h-6zM106 667h4v1h-4zM114 667h1v1h-1zM116 667h6v1h-6zM123 667h11v1h-11zM135 667h8v1h-8zM144 667h1v1h-1zM146 667h1v1h-1zM148 667h1v1h-1zM153 667h2v1h-2zM162 667h1v1h-1zM165 667h1v1h-1zM168 667h1v1h-1zM99 668h6v1h-6zM107 668h3v1h-3zM114 668h1v1h-1zM116 668h1v1h-1zM118 668h11v1h-11zM131 668h2v1h-2zM134 668h3v1h-3zM138 668h1v1h-1zM141 668h6v1h-6zM149 668h2v1h-2zM153 668h4v1h-4zM161 668h2v1h-2zM170 668h2v1h-2zM175 668h1v1h-1zM99 669h2v1h-2zM103 669h2v1h-2zM106 669h1v1h-1zM108 669h3v1h-3zM114 669h1v1h-1zM116 669h18v1h-18zM135 669h22v1h-22zM158 669h1v1h-1zM162 669h1v1h-1zM164 669h2v1h-2zM170 669h1v1h-1zM173 669h1v1h-1zM100 670h1v1h-1zM103 670h2v1h-2zM106 670h1v1h-1zM109 670h6v1h-6zM116 670h5v1h-5zM122 670h5v1h-5zM128 670h6v1h-6zM136 670h19v1h-19zM159 670h2v1h-2zM162 670h1v1h-1zM164 670h1v1h-1zM170 670h1v1h-1zM173 670h2v1h-2zM99 671h1v1h-1zM102 671h2v1h-2zM110 671h2v1h-2zM113 671h9v1h-9zM123 671h4v1h-4zM128 671h3v1h-3zM132 671h2v1h-2zM135 671h9v1h-9zM145 671h12v1h-12zM159 671h4v1h-4zM164 671h1v1h-1zM168 671h1v1h-1zM170 671h2v1h-2zM175 671h2v1h-2zM179 671h2v1h-2zM101 672h1v1h-1zM103 672h2v1h-2zM107 672h1v1h-1zM109 672h3v1h-3zM113 672h11v1h-11zM126 672h8v1h-8zM135 672h1v1h-1zM137 672h2v1h-2zM140 672h1v1h-1zM142 672h5v1h-5zM150 672h7v1h-7zM158 672h4v1h-4zM163 672h2v1h-2zM167 672h2v1h-2zM170 672h1v1h-1zM175 672h1v1h-1zM179 672h2v1h-2zM101 673h3v1h-3zM106 673h2v1h-2zM110 673h1v1h-1zM112 673h7v1h-7zM120 673h4v1h-4zM125 673h4v1h-4zM130 673h4v1h-4zM138 673h1v1h-1zM140 673h5v1h-5zM146 673h5v1h-5zM153 673h8v1h-8zM163 673h1v1h-1zM165 673h3v1h-3zM169 673h1v1h-1zM175 673h2v1h-2zM100 674h6v1h-6zM107 674h7v1h-7zM115 674h9v1h-9zM125 674h9v1h-9zM135 674h1v1h-1zM138 674h6v1h-6zM145 674h2v1h-2zM148 674h1v1h-1zM152 674h2v1h-2zM155 674h3v1h-3zM159 674h4v1h-4zM165 674h1v1h-1zM168 674h2v1h-2zM171 674h2v1h-2zM175 674h1v1h-1zM99 675h9v1h-9zM109 675h2v1h-2zM113 675h1v1h-1zM116 675h4v1h-4zM122 675h3v1h-3zM126 675h8v1h-8zM138 675h2v1h-2zM143 675h1v1h-1zM145 675h6v1h-6zM152 675h1v1h-1zM155 675h5v1h-5zM161 675h4v1h-4zM166 675h3v1h-3zM176 675h1v1h-1zM98 676h2v1h-2zM101 676h4v1h-4zM108 676h3v1h-3zM112 676h8v1h-8zM121 676h1v1h-1zM123 676h3v1h-3zM127 676h4v1h-4zM132 676h8v1h-8zM141 676h1v1h-1zM143 676h8v1h-8zM152 676h2v1h-2zM155 676h3v1h-3zM159 676h2v1h-2zM166 676h3v1h-3zM173 676h3v1h-3zM99 677h1v1h-1zM102 677h1v1h-1zM104 677h1v1h-1zM107 677h12v1h-12zM120 677h6v1h-6zM128 677h3v1h-3zM132 677h8v1h-8zM141 677h4v1h-4zM148 677h3v1h-3zM152 677h1v1h-1zM154 677h5v1h-5zM160 677h1v1h-1zM162 677h1v1h-1zM164 677h1v1h-1zM167 677h2v1h-2zM174 677h3v1h-3zM101 678h12v1h-12zM114 678h7v1h-7zM123 678h2v1h-2zM128 678h3v1h-3zM132 678h8v1h-8zM141 678h4v1h-4zM147 678h4v1h-4zM153 678h9v1h-9zM165 678h1v1h-1zM167 678h1v1h-1zM173 678h2v1h-2zM178 678h2v1h-2zM102 679h22v1h-22zM133 679h3v1h-3zM137 679h1v1h-1zM139 679h11v1h-11zM153 679h1v1h-1zM155 679h6v1h-6zM162 679h5v1h-5zM169 679h1v1h-1zM173 679h1v1h-1zM178 679h2v1h-2zM101 680h5v1h-5zM107 680h13v1h-13zM121 680h4v1h-4zM130 680h2v1h-2zM133 680h3v1h-3zM137 680h5v1h-5zM143 680h1v1h-1zM145 680h4v1h-4zM150 680h10v1h-10zM161 680h4v1h-4zM167 680h2v1h-2zM170 680h4v1h-4zM175 680h2v1h-2zM98 681h1v1h-1zM100 681h1v1h-1zM102 681h22v1h-22zM125 681h2v1h-2zM129 681h9v1h-9zM139 681h10v1h-10zM150 681h6v1h-6zM159 681h6v1h-6zM168 681h1v1h-1zM170 681h1v1h-1zM174 681h1v1h-1zM96 682h1v1h-1zM98 682h26v1h-26zM127 682h10v1h-10zM138 682h7v1h-7zM147 682h2v1h-2zM150 682h5v1h-5zM156 682h4v1h-4zM163 682h2v1h-2zM166 682h1v1h-1zM168 682h1v1h-1zM171 682h2v1h-2zM174 682h1v1h-1zM176 682h1v1h-1zM97 683h28v1h-28zM127 683h10v1h-10zM139 683h8v1h-8zM148 683h1v1h-1zM150 683h6v1h-6zM157 683h4v1h-4zM162 683h1v1h-1zM165 683h2v1h-2zM170 683h3v1h-3zM175 683h2v1h-2zM95 684h27v1h-27zM125 684h1v1h-1zM127 684h9v1h-9zM138 684h10v1h-10zM149 684h1v1h-1zM152 684h1v1h-1zM154 684h3v1h-3zM158 684h6v1h-6zM165 684h2v1h-2zM170 684h1v1h-1zM172 684h1v1h-1zM177 684h1v1h-1zM97 685h25v1h-25zM124 685h11v1h-11zM138 685h14v1h-14zM155 685h1v1h-1zM158 685h1v1h-1zM160 685h1v1h-1zM164 685h1v1h-1zM174 685h2v1h-2zM97 686h5v1h-5zM103 686h3v1h-3zM107 686h2v1h-2zM110 686h13v1h-13zM124 686h13v1h-13zM138 686h15v1h-15zM154 686h4v1h-4zM159 686h9v1h-9zM98 687h4v1h-4zM103 687h6v1h-6zM110 687h37v1h-37zM148 687h9v1h-9zM158 687h10v1h-10zM172 687h1v1h-1zM98 688h1v1h-1zM100 688h39v1h-39zM140 688h21v1h-21zM162 688h4v1h-4zM168 688h1v1h-1zM171 688h1v1h-1zM178 688h1v1h-1zM96 689h1v1h-1zM98 689h1v1h-1zM100 689h2v1h-2zM103 689h36v1h-36zM140 689h16v1h-16zM157 689h7v1h-7zM166 689h2v1h-2zM169 689h1v1h-1zM171 689h1v1h-1zM176 689h2v1h-2zM179 689h2v1h-2zM99 690h3v1h-3zM103 690h41v1h-41zM145 690h2v1h-2zM148 690h7v1h-7zM157 690h8v1h-8zM167 690h2v1h-2zM170 690h1v1h-1zM172 690h1v1h-1zM175 690h2v1h-2zM178 690h1v1h-1zM97 691h1v1h-1zM99 691h6v1h-6zM106 691h51v1h-51zM158 691h7v1h-7zM166 691h2v1h-2zM170 691h3v1h-3zM175 691h2v1h-2zM98 692h1v1h-1zM100 692h34v1h-34zM135 692h19v1h-19zM155 692h3v1h-3zM159 692h8v1h-8zM168 692h1v1h-1zM172 692h2v1h-2zM175 692h1v1h-1zM98 693h1v1h-1zM100 693h54v1h-54zM155 693h9v1h-9zM165 693h10v1h-10zM100 694h1v1h-1zM103 694h4v1h-4zM108 694h24v1h-24zM135 694h27v1h-27zM163 694h6v1h-6zM170 694h3v1h-3zM174 694h1v1h-1zM176 694h1v1h-1zM178 694h2v1h-2zM98 695h65v1h-65zM164 695h5v1h-5zM171 695h2v1h-2zM175 695h2v1h-2zM98 696h4v1h-4zM103 696h58v1h-58zM162 696h1v1h-1zM164 696h6v1h-6zM175 696h1v1h-1zM97 697h2v1h-2zM100 697h69v1h-69zM170 697h3v1h-3zM176 697h1v1h-1zM98 698h1v1h-1zM100 698h2v1h-2zM103 698h56v1h-56zM161 698h1v1h-1zM163 698h12v1h-12zM177 698h1v1h-1zM96 699h3v1h-3zM100 699h1v1h-1zM102 699h58v1h-58zM161 699h1v1h-1zM163 699h2v1h-2zM166 699h4v1h-4zM172 699h1v1h-1zM174 699h2v1h-2zM97 700h1v1h-1zM99 700h73v1h-73zM176 700h1v1h-1zM97 701h68v1h-68zM167 701h2v1h-2zM170 701h2v1h-2zM96 702h2v1h-2zM99 702h55v1h-55zM155 702h10v1h-10zM166 702h2v1h-2zM169 702h2v1h-2zM172 702h2v1h-2zM175 702h1v1h-1zM97 703h3v1h-3zM101 703h63v1h-63zM165 703h1v1h-1zM168 703h3v1h-3zM172 703h4v1h-4zM97 704h3v1h-3zM101 704h38v1h-38zM140 704h1v1h-1zM142 704h22v1h-22zM165 704h1v1h-1zM170 704h1v1h-1zM172 704h1v1h-1zM175 704h1v1h-1zM179 704h2v1h-2zM99 705h1v1h-1zM101 705h5v1h-5zM108 705h40v1h-40zM149 705h13v1h-13zM164 705h2v1h-2zM169 705h3v1h-3zM175 705h3v1h-3zM98 706h2v1h-2zM101 706h5v1h-5zM108 706h53v1h-53zM164 706h2v1h-2zM170 706h2v1h-2zM173 706h1v1h-1zM97 707h2v1h-2zM100 707h68v1h-68zM169 707h1v1h-1zM173 707h1v1h-1zM175 707h2v1h-2zM97 708h4v1h-4zM102 708h59v1h-59zM162 708h1v1h-1zM164 708h5v1h-5zM172 708h1v1h-1zM98 709h1v1h-1zM100 709h7v1h-7zM108 709h15v1h-15zM124 709h7v1h-7zM132 709h34v1h-34zM167 709h2v1h-2zM170 709h3v1h-3zM175 709h1v1h-1zM99 710h1v1h-1zM101 710h1v1h-1zM104 710h3v1h-3zM108 710h62v1h-62zM173 710h2v1h-2zM97 711h65v1h-65zM163 711h6v1h-6zM170 711h1v1h-1zM172 711h2v1h-2zM97 712h3v1h-3zM104 712h1v1h-1zM106 712h46v1h-46zM153 712h8v1h-8zM162 712h3v1h-3zM170 712h1v1h-1zM173 712h1v1h-1zM176 712h1v1h-1zM98 713h1v1h-1zM100 713h1v1h-1zM104 713h1v1h-1zM106 713h60v1h-60zM167 713h2v1h-2zM171 713h1v1h-1zM173 713h2v1h-2zM98 714h2v1h-2zM105 714h45v1h-45zM151 714h9v1h-9zM161 714h3v1h-3zM169 714h3v1h-3zM175 714h1v1h-1zM96 715h3v1h-3zM101 715h1v1h-1zM105 715h19v1h-19zM125 715h31v1h-31zM158 715h2v1h-2zM161 715h4v1h-4zM166 715h1v1h-1zM168 715h2v1h-2zM171 715h1v1h-1zM173 715h1v1h-1zM101 716h54v1h-54zM160 716h6v1h-6zM167 716h3v1h-3zM176 716h1v1h-1zM97 717h3v1h-3zM104 717h2v1h-2zM107 717h11v1h-11zM119 717h44v1h-44zM164 717h2v1h-2zM167 717h1v1h-1zM169 717h2v1h-2zM172 717h2v1h-2zM100 718h4v1h-4zM105 718h58v1h-58zM164 718h4v1h-4zM169 718h1v1h-1zM174 718h1v1h-1zM99 719h1v1h-1zM102 719h2v1h-2zM107 719h45v1h-45zM153 719h1v1h-1zM155 719h5v1h-5zM161 719h4v1h-4zM166 719h1v1h-1zM168 719h1v1h-1zM170 719h1v1h-1zM174 719h1v1h-1zM97 720h1v1h-1zM99 720h3v1h-3zM103 720h2v1h-2zM106 720h54v1h-54zM161 720h3v1h-3zM166 720h1v1h-1zM171 720h1v1h-1zM174 720h1v1h-1zM97 721h2v1h-2zM100 721h2v1h-2zM103 721h1v1h-1zM105 721h58v1h-58zM164 721h2v1h-2zM167 721h1v1h-1zM172 721h1v1h-1zM97 722h3v1h-3zM104 722h2v1h-2zM107 722h2v1h-2zM110 722h4v1h-4zM115 722h31v1h-31zM147 722h17v1h-17zM165 722h1v1h-1zM171 722h1v1h-1zM176 722h1v1h-1zM97 723h2v1h-2zM100 723h1v1h-1zM102 723h1v1h-1zM105 723h1v1h-1zM107 723h1v1h-1zM109 723h1v1h-1zM112 723h3v1h-3zM116 723h1v1h-1zM118 723h1v1h-1zM120 723h12v1h-12zM133 723h2v1h-2zM137 723h6v1h-6zM144 723h3v1h-3zM148 723h11v1h-11zM161 723h1v1h-1zM163 723h3v1h-3zM97 724h1v1h-1zM100 724h1v1h-1zM102 724h1v1h-1zM107 724h1v1h-1zM111 724h2v1h-2zM114 724h4v1h-4zM119 724h1v1h-1zM121 724h18v1h-18zM140 724h2v1h-2zM143 724h14v1h-14zM162 724h4v1h-4zM169 724h1v1h-1zM100 725h2v1h-2zM104 725h2v1h-2zM110 725h1v1h-1zM112 725h1v1h-1zM114 725h1v1h-1zM116 725h13v1h-13zM130 725h1v1h-1zM133 725h3v1h-3zM137 725h2v1h-2zM140 725h2v1h-2zM143 725h2v1h-2zM146 725h8v1h-8zM155 725h5v1h-5zM163 725h3v1h-3zM167 725h1v1h-1zM104 726h1v1h-1zM108 726h1v1h-1zM116 726h7v1h-7zM124 726h8v1h-8zM133 726h4v1h-4zM139 726h4v1h-4zM144 726h1v1h-1zM146 726h2v1h-2zM151 726h4v1h-4zM156 726h1v1h-1zM158 726h1v1h-1zM166 726h3v1h-3zM170 726h1v1h-1zM99 727h2v1h-2zM106 727h2v1h-2zM109 727h2v1h-2zM113 727h1v1h-1zM115 727h21v1h-21zM138 727h12v1h-12zM152 727h6v1h-6zM160 727h3v1h-3zM170 727h1v1h-1zM99 728h1v1h-1zM101 728h3v1h-3zM108 728h3v1h-3zM112 728h2v1h-2zM117 728h3v1h-3zM121 728h22v1h-22zM144 728h11v1h-11zM157 728h1v1h-1zM160 728h2v1h-2zM167 728h1v1h-1zM104 729h1v1h-1zM109 729h2v1h-2zM117 729h2v1h-2zM120 729h13v1h-13zM135 729h4v1h-4zM140 729h2v1h-2zM144 729h16v1h-16zM161 729h1v1h-1zM163 729h2v1h-2zM166 729h2v1h-2zM104 730h1v1h-1zM114 730h1v1h-1zM117 730h6v1h-6zM124 730h5v1h-5zM130 730h13v1h-13zM144 730h1v1h-1zM149 730h5v1h-5zM155 730h2v1h-2zM158 730h3v1h-3zM163 730h1v1h-1zM165 730h2v1h-2zM108 731h1v1h-1zM113 731h1v1h-1zM116 731h2v1h-2zM125 731h8v1h-8zM134 731h11v1h-11zM150 731h1v1h-1zM155 731h1v1h-1zM162 731h1v1h-1zM164 731h2v1h-2zM167 731h1v1h-1zM169 731h2v1h-2zM106 732h1v1h-1zM111 732h4v1h-4zM116 732h1v1h-1zM120 732h1v1h-1zM125 732h16v1h-16zM142 732h2v1h-2zM148 732h1v1h-1zM150 732h2v1h-2zM156 732h2v1h-2zM162 732h1v1h-1zM164 732h1v1h-1zM166 732h1v1h-1zM111 733h3v1h-3zM116 733h2v1h-2zM119 733h1v1h-1zM121 733h1v1h-1zM125 733h2v1h-2zM130 733h1v1h-1zM132 733h1v1h-1zM134 733h6v1h-6zM141 733h2v1h-2zM146 733h4v1h-4zM151 733h1v1h-1zM156 733h2v1h-2zM159 733h1v1h-1zM114 734h1v1h-1zM118 734h1v1h-1zM130 734h3v1h-3zM136 734h2v1h-2zM139 734h1v1h-1zM141 734h1v1h-1zM147 734h1v1h-1zM150 734h1v1h-1zM152 734h1v1h-1zM156 734h1v1h-1zM158 734h3v1h-3zM164 734h2v1h-2zM114 735h2v1h-2zM118 735h2v1h-2zM122 735h1v1h-1zM131 735h3v1h-3zM137 735h1v1h-1zM139 735h2v1h-2zM142 735h1v1h-1zM149 735h1v1h-1zM151 735h2v1h-2zM154 735h4v1h-4zM159 735h1v1h-1zM162 735h2v1h-2zM103 736h2v1h-2zM109 736h3v1h-3zM115 736h1v1h-1zM119 736h1v1h-1zM122 736h2v1h-2zM128 736h3v1h-3zM133 736h1v1h-1zM136 736h1v1h-1zM139 736h2v1h-2zM144 736h1v1h-1zM148 736h2v1h-2zM154 736h1v1h-1zM107 737h5v1h-5zM122 737h1v1h-1zM127 737h2v1h-2zM133 737h1v1h-1zM139 737h4v1h-4zM144 737h3v1h-3zM150 737h2v1h-2zM109 738h1v1h-1zM118 738h1v1h-1zM120 738h2v1h-2zM129 738h2v1h-2zM133 738h2v1h-2zM138 738h1v1h-1zM141 738h2v1h-2zM146 738h1v1h-1zM150 738h1v1h-1zM155 738h1v1h-1z" fill="#000" shape-rendering="crispEdges"/>
<rect x="50.80" y="545.30" width="192.40" height="194.30" fill="none" stroke="#000" stroke-width="1.35"/>
<path d="M52.50 739.60v7.4M59.98 739.60v3.6M67.46 739.60v3.6M74.94 739.60v3.6M82.42 739.60v3.6M89.90 739.60v7.4M97.38 739.60v3.6M104.86 739.60v3.6M112.34 739.60v3.6M119.82 739.60v3.6M127.30 739.60v7.4M134.78 739.60v3.6M142.26 739.60v3.6M149.74 739.60v3.6M157.22 739.60v3.6M164.70 739.60v7.4M172.18 739.60v3.6M179.66 739.60v3.6M187.14 739.60v3.6M194.62 739.60v3.6M202.10 739.60v7.4M209.58 739.60v3.6M217.06 739.60v3.6M224.54 739.60v3.6M232.02 739.60v3.6M239.50 739.60v7.4" stroke="#000" stroke-width="1.4" fill="none"/>
<text font-size="14.44" font-family='"Liberation Sans", sans-serif' font-weight="normal" text-anchor="middle" transform="translate(52.50 757.60) scale(0.9 1)" stroke="#000" stroke-width="0.5" >0</text>
<text font-size="14.44" font-family='"Liberation Sans", sans-serif' font-weight="normal" text-anchor="middle" transform="translate(89.90 757.60) scale(0.9 1)" stroke="#000" stroke-width="0.5" >50</text>
<text font-size="14.44" font-family='"Liberation Sans", sans-serif' font-weight="normal" text-anchor="middle" transform="translate(127.30 757.60) scale(0.9 1)" stroke="#000" stroke-width="0.5" >100</text>
<text font-size="14.44" font-family='"Liberation Sans", sans-serif' font-weight="normal" text-anchor="middle" transform="translate(164.70 757.60) scale(0.9 1)" stroke="#000" stroke-width="0.5" >150</text>
<text font-size="14.44" font-family='"Liberation Sans", sans-serif' font-weight="normal" text-anchor="middle" transform="translate(202.10 757.60) scale(0.9 1)" stroke="#000" stroke-width="0.5" >200</text>
<text font-size="14.44" font-family='"Liberation Sans", sans-serif' font-weight="normal" text-anchor="middle" transform="translate(239.50 757.60) scale(0.9 1)" stroke="#000" stroke-width="0.5" >250</text>
<path d="M50.80 738.60h-7.4M50.80 724.11h-3.6M50.80 715.63h-3.6M50.80 709.61h-3.6M50.80 704.94h-3.6M50.80 701.13h-3.6M50.80 697.91h-3.6M50.80 695.12h-3.6M50.80 692.65h-3.6M50.80 690.45h-7.4M50.80 675.96h-3.6M50.80 667.48h-3.6M50.80 661.46h-3.6M50.80 656.79h-3.6M50.80 652.98h-3.6M50.80 649.76h-3.6M50.80 646.97h-3.6M50.80 644.50h-3.6M50.80 642.30h-7.4M50.80 627.81h-3.6M50.80 619.33h-3.6M50.80 613.31h-3.6M50.80 608.64h-3.6M50.80 604.83h-3.6M50.80 601.61h-3.6M50.80 598.82h-3.6M50.80 596.35h-3.6M50.80 594.15h-7.4M50.80 579.66h-3.6M50.80 571.18h-3.6M50.80 565.16h-3.6M50.80 560.49h-3.6M50.80 556.68h-3.6M50.80 553.46h-3.6M50.80 550.67h-3.6M50.80 548.20h-3.6M50.80 546.00h-7.4" stroke="#000" stroke-width="1.4" fill="none"/>
<text font-size="14.44" font-family='"Liberation Sans", sans-serif' font-weight="normal" text-anchor="end" transform="translate(40.50 738.40) rotate(-90) scale(0.8 1)" stroke="#000" stroke-width="0.5" >10</text>
<text font-size="13.89" font-family='"Liberation Sans", sans-serif' font-weight="normal" text-anchor="start" transform="translate(33.30 737.90) rotate(-90) scale(0.85 1)" stroke="#000" stroke-width="0.5" >0</text>
<text font-size="14.44" font-family='"Liberation Sans", sans-serif' font-weight="normal" text-anchor="end" transform="translate(40.50 690.25) rotate(-90) scale(0.8 1)" stroke="#000" stroke-width="0.5" >10</text>
<text font-size="13.89" font-family='"Liberation Sans", sans-serif' font-weight="normal" text-anchor="start" transform="translate(33.30 689.75) rotate(-90) scale(0.85 1)" stroke="#000" stroke-width="0.5" >1</text>
<text font-size="14.44" font-family='"Liberation Sans", sans-serif' font-weight="normal" text-anchor="end" transform="translate(40.50 642.10) rotate(-90) scale(0.8 1)" stroke="#000" stroke-width="0.5" >10</text>
<text font-size="13.89" font-family='"Liberation Sans", sans-serif' font-weight="normal" text-anchor="start" transform="translate(33.30 641.60) rotate(-90) scale(0.85 1)" stroke="#000" stroke-width="0.5" >2</text>
<text font-size="14.44" font-family='"Liberation Sans", sans-serif' font-weight="normal" text-anchor="end" transform="translate(40.50 593.95) rotate(-90) scale(0.8 1)" stroke="#000" stroke-width="0.5" >10</text>
<text font-size="13.89" font-family='"Liberation Sans", sans-serif' font-weight="normal" text-anchor="start" transform="translate(33.30 593.45) rotate(-90) scale(0.85 1)" stroke="#000" stroke-width="0.5" >3</text>
<text font-size="14.44" font-family='"Liberation Sans", sans-serif' font-weight="normal" text-anchor="end" transform="translate(40.50 545.80) rotate(-90) scale(0.8 1)" stroke="#000" stroke-width="0.5" >10</text>
<text font-size="13.89" font-family='"Liberation Sans", sans-serif' font-weight="normal" text-anchor="start" transform="translate(33.30 545.30) rotate(-90) scale(0.85 1)" stroke="#000" stroke-width="0.5" >4</text>
<text font-size="14.44" font-family='"Liberation Sans", sans-serif' font-weight="normal" text-anchor="middle" transform="translate(144.00 774.50) scale(0.9 1)" stroke="#000" stroke-width="0.5" >FSC-Height</text>
<text font-size="19.00" font-family='"Liberation Sans", sans-serif' font-weight="bold" text-anchor="middle" transform="translate(16.30 649.50) rotate(-90)" stroke="#000" stroke-width="0.6" letter-spacing="2.7" >CD83</text>
<rect x="67" y="596.3" width="145.6" height="72.6" fill="none" stroke="#000" stroke-width="1.3"/>
<text font-size="14.00" font-family='"Liberation Serif", serif' font-weight="normal" text-anchor="start" transform="translate(79.30 568.00)" stroke="#000" stroke-width="0.3" letter-spacing="0.8" >Dendritic <tspan dx="2.2">cells</tspan></text>
</svg>
</body></html>
